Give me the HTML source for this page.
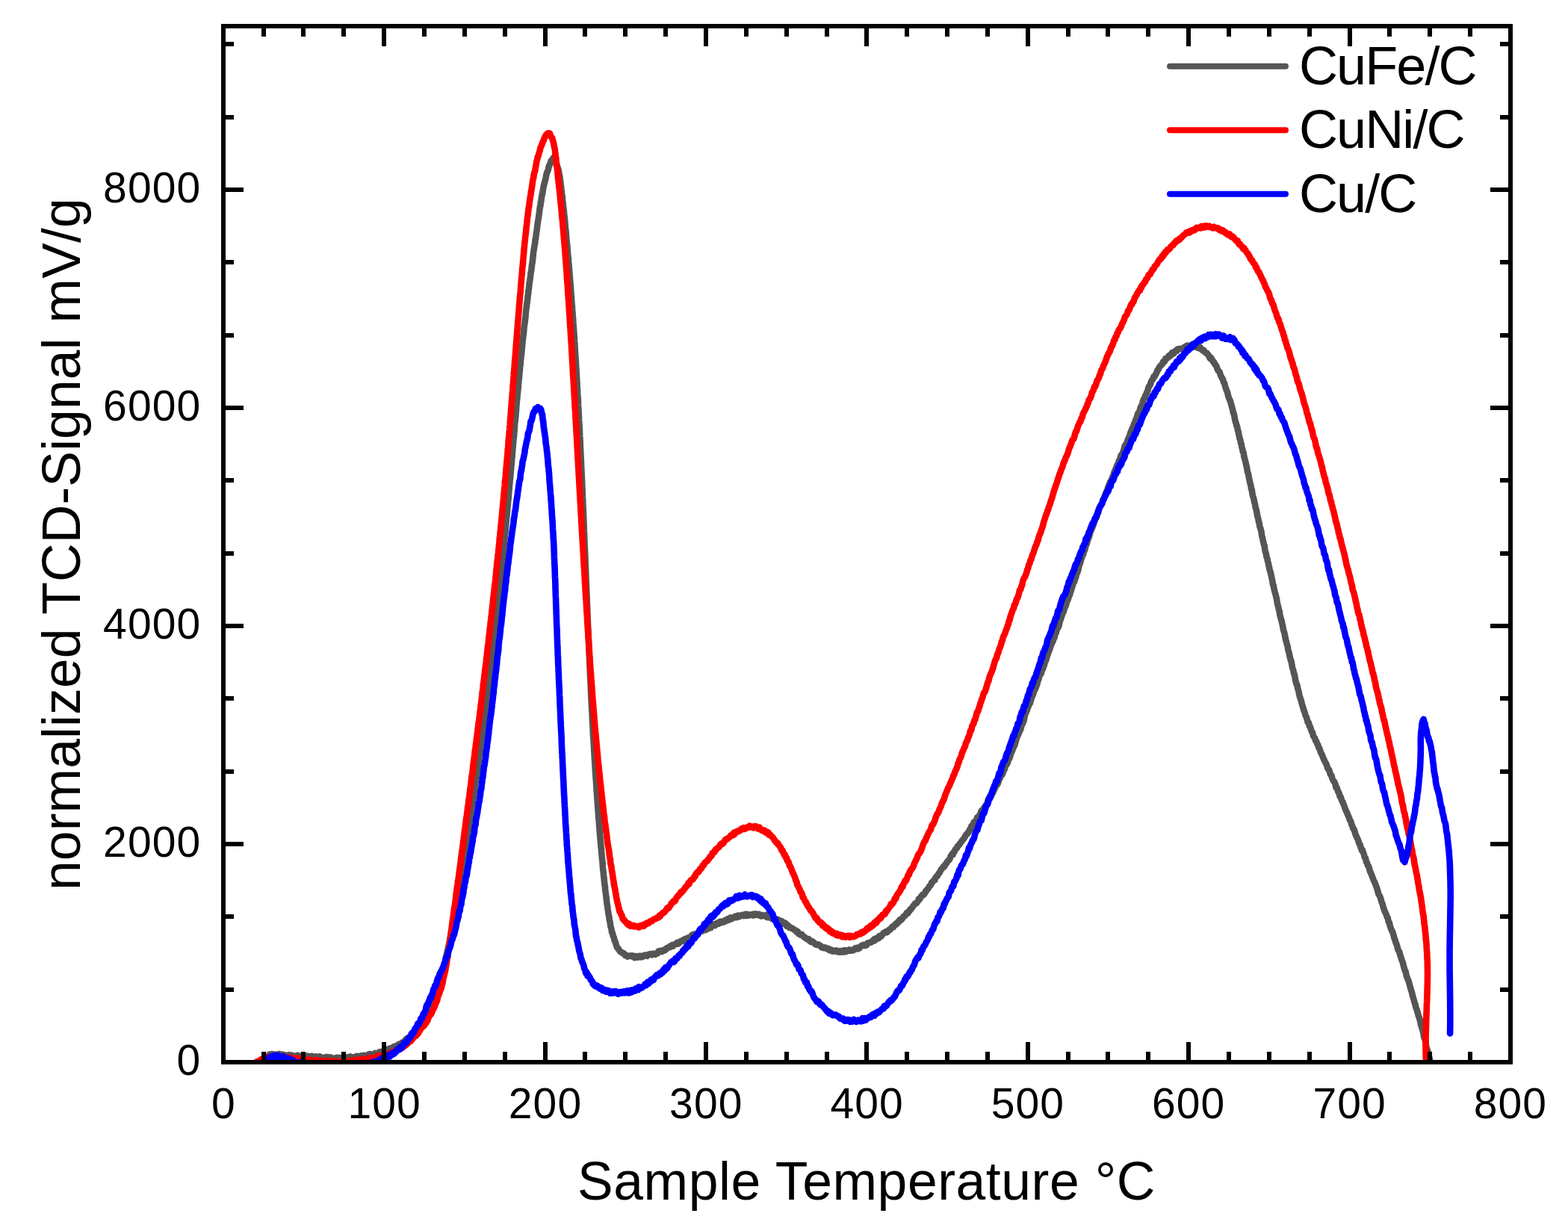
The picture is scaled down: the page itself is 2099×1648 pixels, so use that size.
<!DOCTYPE html>
<html lang="en">
<head>
<meta charset="utf-8">
<title>TCD signal vs sample temperature</title>
<style>
html,body{margin:0;padding:0;background:#fff;}
body{width:2099px;height:1648px;overflow:hidden;}
svg{display:block;}
text{font-family:"Liberation Sans",Arial,Helvetica,sans-serif;fill:#000;}
.tick{font-size:57px;letter-spacing:1.1px;}
.xt{font-size:71.5px;letter-spacing:0.55px;}
.yt{font-size:71.5px;letter-spacing:0.09px;}
.leg{font-size:72px;letter-spacing:-1.9px;}
.curve{fill:none;stroke-width:8.6;stroke-linejoin:round;stroke-linecap:round;}
</style>
</head>
<body>
<svg xmlns="http://www.w3.org/2000/svg" width="2099" height="1648" viewBox="0 0 2099 1648">
<rect width="2099" height="1648" fill="#fff"/>
<defs><clipPath id="plot"><rect x="299" y="35" width="1723" height="1388"/></clipPath></defs>
<g clip-path="url(#plot)">
<path class="curve" stroke="#555555" d="M357.5 1414.5l1-.8 1.1 .3 1.2-2.4 1 .5 1-.7 1.1-.3 1.1 .1 1.1 .4 1.2 0 1.1 .4 1.2-.3 1.2 .8 1.2-1.3 1 2 1-2.3 1 1.9 1.1-.6 1 .5 1-1.1 1 .3 1.1 1.7 1 .6 1-1.7 1 1.1 1.1 .6 1 .2 1-2.2 1 0 1 .4 1.1 2.1 1-2.2 1 1 1 1.6 1-1.1 1 .5 1-1 1 1.1 1 .5 1-2.3 1.1 2.2 1 .7 1-.6 1-1.3 1 1.5 1-1.9 1 1 1 1.4 1.2-1.7 1.2 .1 1.2-.4 1.2-.3 1.2 1.9 1.2-1.2 1.1 .2 1.2 .7 1.2-1.2 1.2 1.5 1.2-1.1 1.2 1.3 1.2 .4 1.2-1.6 1.2 .9 1.2 .8 1.2-.7 1.2-1 1.2 1.4 1.1 .5 1.2-.4 1.2 1.2 1.2-.9 1.2 .9 1.2-2.1 1.2 .1 1.2 1.9 1.2-1.2 1.1-.6 1.2 2.2 1.2-1.6 1.2 1.1 1.2 0 1.2 .4 1.2-.7 1.2 .4 1.1-1.1 1.2-.2 1.2 1.7 1.2-1.3 1.2 1.5 1.2-.9 1.2-.1 1.2-1.5 1.1 2.4 1.2-1.5 1.2 .3 1.2-.5 1.2-.5 1.2 1.8 1.2-1 1.2-1.7 1.2 1.7 1.1-.9 1.2 .5 1.2 .9 1.2-1.6 1.2 1.4 1.2-.9 1.2-1.8 1.2 2.5 1.2-.8 1.2 .7 1.2-2.5 1.2-.2 1.2 2 1.2-.8 1.2-1.9 1.2 1.7 1.2-.2 1 .3 1-.8 1-1.8 1-.5 1-.1 1-.2 1 .4 1 1.5 1-1.1 1-.2 1.2 .5 1.2-2.3 1.2 .2 1.2 .5 1.2 .8 1.2-1.5 1.1-1.8 1.2 1.8 1.2-1.9 1.2 1.2 1.1-1.5 1.2 .9 1.2-.7 1.1-.9 1.2-1.6 1.1-.7 1.2-.2 1.1-.7 1.1-.3 1.2-.1 1.1 .9 1.1-.9 1.1-2.1 1.1-.3 1 2 1.1-1.7 1.1-1.6 1-.4 1.1 .8 1-2.1 1.1 .5 1 .5 1-1 1.1-2.5 1.2 0 1.1-.4 1.1-.2 1.1-2.7 1.1-1.2 1.1-.8 1 .4 1-.6 1.1-1 1-1.6 1.1 .8 1.1-2.2 1.1-1.7 1.1-.6 1-.6 1.1-1.3 1-2.3 1-1.8 1.1-.5 1.1-.6 1.1-2.6 1 .1 1-3.4 1-.9 1.1-.1 1.1-3.4 1-.4 1.1-2 1-.6 1-3.8 1.1-2.4 1-.1 1-1.9 1.1-1.8 1-2.1 1-4.8 1.1-1.8 1-1.3 1-1.5 1.1-2.7 1-3.7 1.1-1.9 1-3.7 1-3.6 1-2.6 .9-2.6 1-3 .9-1.9 .8-2.9 .9-4.4 .8-1.3 .8-5.1 .8-3.1 .8-2.9 .8-1.8 .7-4.3 .7-.3 .7-3.3 .7-5.2 .7-2.7 .7-2.6 .7-3.7 .6-1.3 .7-4.4 .6-1.4 .6-4.2 .6-2.3 .6-3.2 .6-2.9 .6-4.4 .6-2.9 .5-2.4 .6-4.6 .5-2.6 .6-2.8 .5-4.8 .6-1.5 .5-3.6 .6-2.1 .5-4.5 .5-1.5 .6-4 .5-4.3 .5-1.4 .5-3.7 .6-4.7 .5-2.1 .5-2.4 .6-2.5 .5-5.7 .5-.4 .6-4.9 .5-1.4 .5-4.2 .5-2.6 .5-3.8 .6-3 .5-4.1 .5-2.3 .5-2.7 .5-2.9 .6-3.4 .5-3.4 .5-2.5 .4-4.4 .5-2 .5-3.6 .5-3.2 .5-2.8 .4-3 .5-3.2 .5-2.1 .5-3.5 .4-1.5 .5-3.8 .5-4.3 .4-2.3 .5-3.2 .5-1.7 .4-2.8 .5-2.9 .4-3.6 .5-4.1 .5-3 .4-1.3 .5-3.9 .4-2.2 .5-3.6 .4-2.5 .5-3.6 .4-2.2 .5-3.6 .4-3.2 .5-3.4 .4-3.7 .4-2.1 .5-3.8 .4-.4 .5-5.3 .4-1.2 .4-2.8 .5-3.5 .4-3.3 .4-4.1 .4-2.1 .5-3.3 .4-3.3 .4-2 .4-3.7 .4-1.3 .4-3 .5-4.8 .4-3.4 .4-2.7 .4-2.2 .4-2.3 .4-4.4 .4-2.9 .4-1.3 .4-4.2 .4-2.4 .4-4 .4-3.4 .4-1.8 .4-3.1 .3-3.9 .4-1.6 .4-3.2 .4-2.7 .4-4.4 .4-1.3 .3-4.4 .4-2.2 .4-2.2 .4-5.1 .3-2.2 .4-1.4 .4-3 .3-3.9 .4-2 .4-2.8 .4-3.5 .4-3.1 .3-5.3 .4-1.6 .4-3.1 .4-3.4 .4-2.6 .3-5.4 .4-1.1 .4-3.3 .4-4.5 .3-3.2 .4-2.1 .4-4 .3-1.9 .4-4.1 .4-2.3 .3-2.6 .4-5.1 .3-3.6 .4-1.1 .3-4.1 .4-2 .4-4.1 .3-2.2 .4-4.4 .3-3.3 .3-4.2 .4-2.6 .3-4.1 .4-2.8 .3-1.6 .4-5.1 .3-2.3 .3-1.8 .4-3.6 .3-3.2 .3-4.6 .4-2.5 .3-2.8 .3-2 .4-5.4 .3-3 .3-3.2 .3-1.8 .3-4 .4-4.3 .3-1.9 .3-4 .3-1.6 .3-4.6 .4-3.9 .3-1.6 .3-2.5 .3-4.5 .3-2.1 .3-3.9 .3-3.1 .3-2 .3-3.6 .4-5.3 .3-1.3 .3-3.9 .3-1.8 .3-5.2 .3-3.1 .3-3.7 .3-2.2 .3-4.1 .3-1.7 .3-2.7 .2-3.5 .3-3 .3-4.4 .3-1.7 .3-4.4 .3-2.1 .3-3.7 .3-4.5 .3-3.4 .3-3.4 .2-3 .3-2.1 .3-4.1 .3-3.5 .3-1.1 .3-4.2 .2-2.2 .3-4 .3-3.2 .3-3.1 .3-3.2 .2-2.3 .3-4.3 .3-1.8 .3-5.6 .2-1.1 .3-5 .3-1.8 .3-4.9 .2-1.7 .3-4.7 .3-.6 .3-3.3 .2-3.5 .3-2.8 .3-5.4 .2-2.9 .3-2.9 .3-1.8 .2-2.2 .3-2.7 .3-3.8 .2-2.9 .3-2.5 .2-4.5 .3-3.4 .3-3.2 .2-3.1 .3-1.1 .3-4.8 .2-2.7 .3-1.4 .3-4.4 .3-1.1 .2-5 .3-2.3 .3-3.6 .3-1.3 .3-4.5 .2-2.8 .3-2.8 .3-1.8 .3-5.5 .3-1.1 .3-2.5 .3-5.4 .3-1.6 .3-3.5 .3-1.5 .3-3.8 .3-2.6 .3-3.7 .3-2.5 .3-3.9 .3-3.8 .3-1.4 .4-3.7 .3-2.4 .3-1.9 .3-4.4 .4-3.5 .3-2.6 .3-1.4 .4-3 .3-3.2 .4-2.8 .3-4.9 .4-3.4 .3-2.6 .4-2.8 .3-3.3 .4-1.8 .4-3.5 .3-1.9 .4-4.7 .4-1.6 .3-4.2 .4-2.1 .4-3.6 .4-3.8 .3-2.5 .4-1.8 .4-3.4 .4-2.9 .4-4 .4-1.8 .4-2 .4-3.7 .4-3.8 .5-2.1 .4-3.3 .4-4.1 .5-4.7 .4-3 .4-3.2 .5-2.1 .4-3.4 .5-1.5 .4-5.4 .5-.9 .4-3.7 .4-3 .5-3.7 .5-3 .4-3.7 .5-4.5 .4-2.2 .5-2.7 .4-2.5 .5-3.8 .5-3.2 .4-4 .5-3.5 .5-1.1 .4-4.3 .5-1.3 .6-5.3 .5-2.8 .5-2.4 .6-2.4 .5-3.8 .7-3.9 .6-2.5 .7-2.5 .7-2.6 .8-2.8 .8-4.9 .8-3.2 .8-1.5 .9-2.1 1-5.2 1-1.2 1-2.9 1.1-3.2 1-.5 1.1-1.8 1-1.8 1 2.3 1.1 2.7 1.1 2.1 1 2.2 1 3.1 .9 2.7 .7 2.1 .6 3.9 .6 3.3 .5 2.1 .4 4.5 .4 1.3 .4 4.7 .4 1.8 .4 4.4 .4 2.1 .3 4.1 .4 1.7 .3 2.6 .3 4.7 .4 1.9 .3 4.3 .4 3.2 .3 1.7 .3 3.1 .3 3.1 .4 3 .3 3.8 .3 2.2 .3 3.4 .3 4.7 .3 3.5 .3 1.1 .3 3.6 .3 3.1 .3 5.2 .3 2.6 .3 2.7 .3 2.5 .3 4.6 .3 2.1 .2 4.5 .3 2.6 .3 2.5 .3 2.2 .2 5.6 .3 .9 .3 3.3 .2 3.8 .3 3.1 .3 2.5 .2 4.8 .3 1.7 .2 4.4 .3 3.3 .2 1.5 .3 4.1 .2 3.4 .2 2.7 .2 2.9 .3 2.1 .2 4.2 .2 3.6 .2 1.6 .3 4 .2 .9 .2 5.2 .2 1.2 .2 3.6 .2 2.7 .3 2.4 .2 5.3 .2 1.5 .2 3.4 .2 2.9 .2 2 .2 3.2 .2 2.7 .2 4.2 .2 2.3 .2 3.2 .2 2.3 .2 4.9 .2 1.1 .2 5.5 .1 .7 .2 4.1 .2 1.6 .2 5 .2 1.4 .2 3.9 .1 3.6 .2 1.3 .2 4.2 .2 2 .2 4.5 .1 2.9 .2 1.5 .2 4.9 .2 .7 .1 5.3 .2 2.2 .2 2.5 .1 4 .2 2.9 .2 3.8 .1 1 .2 2.2 .1 5.6 .2 2.8 .2 2.6 .1 2.4 .2 3.5 .1 3.2 .2 1.9 .1 4.1 .2 3 .2 2.6 .1 2.4 .2 3.8 .1 1 .2 5.2 .1 3.3 .1 1.2 .2 2.7 .1 3.2 .2 3.3 .1 4.8 .2 2.2 .1 2.5 .2 2.8 .1 3.6 .2 4.1 .1 2.4 .2 3.6 .1 3.1 .2 4.3 .1 2.1 .2 2.9 .1 4.2 .2 1.9 .1 3.9 .2 2.7 .1 4.1 .1 3.9 .2 2 .1 4.1 .2 2.3 .1 3.8 .1 1.7 .2 4 .1 4.6 .1 2.3 .2 3.7 .1 2.4 .2 3.2 .1 4.2 .1 1 .2 4.6 .1 4.2 .1 2 .2 2.3 .1 5 .1 1.6 .2 4.4 .1 2.8 .1 4.3 .2 2.3 .1 3.8 .1 .9 .1 5.9 .2 .7 .1 3.8 .1 5 .2 .5 .1 5.5 .1 3.3 .2 2 .1 2.7 .1 4.7 .1 2.3 .2 2.3 .1 5.4 .1 3.1 .2 2.1 .1 4.2 .1 1.9 .2 4 .1 2.4 .1 3.5 .2 2.3 .1 5.4 .1 1.3 .1 2.6 .2 3.3 .1 2.9 .1 5.1 .2 2.8 .1 3.8 .1 2.4 .2 4 .1 3 .1 3.4 .2 2.1 .1 3.9 .1 1.9 .2 3.6 .1 2.8 .2 3.8 .1 2.8 .1 3.6 .2 4.8 .1 1.4 .2 5 .1 2.2 .1 2.5 .2 4.6 .1 2.5 .2 2.2 .1 4.7 .1 2.2 .2 2.9 .1 3.2 .2 4.2 .1 2 .2 4.7 .1 1.8 .2 3.6 .1 2.9 .2 4 .1 3.1 .2 1 .1 4.1 .1 3.9 .2 1.7 .1 4.4 .2 1.2 .1 3.9 .2 3.2 .1 1.7 .2 2.4 .2 4.1 .1 4.5 .2 1.3 .1 4.2 .2 1.3 .2 3.5 .1 2.5 .2 4.6 .1 2.9 .2 3 .2 1.7 .2 4.3 .1 1.7 .2 3.5 .2 2.9 .1 2.9 .2 2.2 .2 4.6 .2 3.2 .2 2.7 .1 3.1 .2 1.7 .2 2.9 .2 4 .2 4 .2 1.1 .2 3.8 .2 2.9 .2 3.1 .2 2.1 .2 3.5 .2 2.8 .2 4.6 .2 2.9 .2 1.9 .2 3.5 .2 1.7 .2 4 .2 2.4 .3 4.6 .2 2.5 .2 2.8 .2 1.6 .2 4 .3 4.4 .2 2.9 .2 2.1 .3 1.7 .2 4.3 .2 2.8 .3 2.7 .2 2.9 .3 3.5 .2 3.7 .3 2.7 .2 2.5 .3 4 .2 .5 .3 5.6 .2 .4 .3 3.4 .3 3.6 .2 2.1 .3 4.5 .3 1.3 .3 3.7 .2 2.3 .3 4.8 .3 2.9 .3 2.2 .3 2.5 .3 4.5 .4 2 .3 4.5 .3 2.3 .4 3.3 .4 1.8 .3 4.9 .4 2.3 .4 2.9 .4 3.7 .4 3 .4 3.4 .5 4.6 .4 1.4 .5 4.3 .4 2.5 .5 4.1 .5 1.7 .5 2.8 .6 5 .5 .7 .6 5.7 .6 2 .7 2.4 .7 4.7 .8 .3 .8 4.3 .9 1.6 1 4.5 1.1 1.6 1 3.8 1.1 3.2 1.1 1.7 1 .5 1.1 2.2 1.1 1.6 1 .3 1.1 1.1 1.1-.2 1.1 1.4 1.1 0 1 2.2 1.1-.3 1 .4 1.2 1.6 1.1-.7 1.1 0 1.2-.2 1.2-.3 1 1.1 1-1 1 .9 1.1 .6 1 1.4 1-2.4 1.1 1.6 1-.5 1.1 .8 1-1.9 1.1-.2 1 .8 1 1 1.1-1.8 1 1.5 1-1.5 1-.3 1-.8 1.2 .9 1.2-.3 1.2 .6 1.1-2 1.2 0 1.2-.7 1.1 0 1.2 1.1 1.1-1 1.2-.6 1.1 .3 1.1 .9 1.1-.9 1.2-.8 1.1 .2 1.1-2.9 1.1-.3 1.1 .7 1.1-.8 1.1 1.1 1.1-1.7 1.1-.3 1.1 .5 1-1.8 1.1 .7 1.1-2.2 1.1-.5 1-.4 1.1 .1 1.1-1.4 1.1 .7 1-2 1.1-.7 1.1 1.7 1-2.3 1.1-.1 1.1-.1 1.1-.6 1-1.8 1.1 1.7 1.1-.4 1-.9 1.1-2 1.1 .1 1.1-1 1 0 1.1 .7 1.1-2.4 1.1 .4 1-1.5 1.1 .8 1.1-1.8 1.1 1 1-.9 1.1-.5 1.1-1.4 1.1-1.2 1-1 1.1 .2 1.1-1.3 1.1 1.3 1.1-.6 1-1.2 1.1 .4 1.1-1.2 1.1-1.9 1.1-.3 1-.4 1.1-.1 1.1-1.3 1.1 1 1.1-.8 1-.2 1.1-1 1.1 .6 1.1-1.6 1.1-1.8 1.1 1.9 1.1-1.1 1-.1 1.1-.1 1.1-3.1 1.1 0 1.1-1 1.1 .5 1.1 .8 1.1-2.7 1.1 .6 1.1-1.5 1 1.3 1.1-.3 1.1-2.7 1.1 .8 1.1-1.2 1.1 1.5 1.1-.4 1.2-1.4 1.1 .5 1.1-2.1 1.1 1.1 1.1-1.7 1.1-1 1.1 1.6 1.2-1.2 1.1-2.1 1.1 1.9 1.2-.8 1.1-.6 1.1 0 1.2-1.7 1.1 .7 1.2 .3 1.1-2.4 1.2-.1 1.1 1.7 1.2-.8 1.2-.5 1.2-1 1.1-.1 1.2 1.4 1.2-1.4 1.2-1.1 1.2 2.2 1-2.1 1 1.7 1 .1 1-1.2 1.1 .3 1-.3 1 .3 1 .6 1.1-1.6 1 1.7 1-.8 1-1.3 1.1 .4 1 1.1 1-.9 1.1-.2 1 .2 1 2 1-.5 1 1.1 1.1-1.5 1 .8 1 .2 1.2 .3 1.2-1.3 1.1 2.2 1.2 .8 1.2-.8 1.1-.6 1.2 1.9 1.1-1.8 1.1 1.3 1.1 2 1.1-.5 1.1 1.2 1.1-.3 1.1 1.1 1.1 .6 1-1.1 1.1 0 1.1 2.1 1-.2 1-.4 1.1 1.8 1-1 1 1.1 1 2.2 1.1-1.6 1 1.4 1-.2 1 3.3 1.1-.4 1.2-.1 1.2 2.5 1.1-.4 1.2 .6 1.1 1.1 1.2-.1 1.1 .9 1.2 1 1.1 .4 1.2 1.7 1.2 1.1 1.1-.9 1.2 3.3 1.1 .2 1 .8 1 .6 1.1-1.2 1 1.8 1 .6 1 1.3 1 .1 1.1 1.4 1 .6 1 .7 1.1 .5 1-.7 1.1 2.4 1 .7 1.1 1 1.1-1.2 1 .5 1.1 1.2 1.1 .4 1.1 2 1.1 0 1.1 1 1.1-.3 1.1-.4 1.1 .6 1.1 1.3 1.1 0 1.1 2.3 1.1-.2 1.1 .8 1.2-.1 1.1-.7 1.1 .8 1.2 1.1 1.1-.4 1.1-.1 1.2 2.3 1.1 .3 1.2-.8 1.1 1.7 1.1-.9 1.2 1.4 1.2-.4 1.1 0 1.2-.9 1.1 1 1.2 1.1 1.1-1.5 1.2 1.6 1.2 .1 1.1-1.6 1.2 .9 1.2 .5 1.1-2.3 1.2 2.1 1.2-2.1 1.1 1.7 1.2-.7 1.1-1.1 1.2-.7 1.2 1.1 1.1 .3 1.2-.3 1.1-.9 1.2 .6 1.1-1.3 1.2-1.5 1.1 .3 1.2-.7 1.1 1.5 1.2-2.1 1.1 1.2 1.1-1.7 1.2-1.5 1.1-.7 1.1 .3 1.1-1.1 1.1 .9 1.1-1.2 1.1 1.1 1.1-.7 1.1-2.7 1.1 .1 1.1-.3 1.1-.3 1 0 1.1-1.4 1-.8 1.1-1 1 1.2 1.1-3.1 1 1.6 1-2.4 1.1 .8 1-1.6 1 1.1 1-3.1 1-.4 1.2 1.1 1.1-1.6 1.2-1.6 1.1-1.6 1.1-.2 1.2-1.1 1.1-.6 1.1 1.1 1.1-.9 1.1-1.4 1.1-1.5 1.1 .2 1-1.8 1.1-1.3 1.1-1.1 1 .9 1.1-2.4 1-.6 1.1-1.6 1 .8 1.1-2.3 1-1.2 1 .3 1-2.5 1-1.1 1 1 1.2-1.3 1.1-1.6 1.1-2.1 1.1-.1 1.2-1.1 1.1-2 1.1-1.8 1.1 1.1 1-2.4 1.1-.3 1.1-2.6 1.1-.2 1-1.7 1.1-1.3 1.1-1.9 1-.9 1.1-1.7 1-.6 1 0 1.1-1.6 1-1.1 1-3.1 1 .7 1-1.8 1.1-2 1-1.4 1-1.2 1.1 .4 1.1-1.1 1.1-1.6 1.1-3 1.1-.2 1.1-2.1 1.1-.7 1.1-2.4 1.1-1.2 1.1-.9 1.1-3.4 1.1-.2 1-2 1.1-.8 1.1-.4 1-3.1 1.1-1.5 1.1-.3 1-1.9 1.1-2.2 1.1-.7 1-2.2 1.1-2.3 1-.6 1.1-1.8 1.1-1.8 1 .5 1.1-2.1 1-1.8 1.1-1 1-2.1 1.1-1 1-.8 1.1-1.7 1-3.4 1.1-1.2 1-2 1.1 1 1-3.5 1.1-.3 1-3.1 1.1-1.1 1-.7 1-2.6 1.1-.6 1-1.1 1.1-2 1-.9 1-1.5 1.1-1.9 1-.6 1-1.5 1-1.5 1-1.8 1.1-2.1 1-.7 1-.6 1-2.4 1-.5 1-2.9 1-.7 1.1-3.6 1.1 .4 1.1-2.4 1.1-3.1 1.1-.9 1.1-.9 1.1-1 1.1-3.7 1-.3 1.1-.9 1.1-2.1 1-.9 1.1-4.1 1-1.1 1.1 .1 1-2.1 1.1-2.1 1-1.1 1-1.5 1-1.5 1-1.6 1-4.1 1.1-2.1 1.1-1.9 1.1-2 1.1 .7 1-4.3 1.1 .2 1-2.4 1.1-2.4 1-2.3 1-2 1-2.2 1.1-.2 1.1-2.7 1-4.1 1.1-.9 1-2.6 1.1-2.9 1 .3 1-2.5 1.1-3.6 1-1.1 1.1-3.7 1-2.4 1.1-.6 1-2.3 1-3.6 1-1.2 1.1-2.8 1-3.6 1.1-3 1-1.7 1-3.3 1.1-2.2 1-1.6 1-3.2 1.1-4.1 1-3.5 1.1-2.5 1-1.9 1.1-3.1 1-1.8 1.1-2.5 1-4.9 1-.9 1.1-2.6 1-2.8 1-5.5 1-2.7 1.1-3 1-2 1-3.6 1.1-2.1 1-2.7 1-1.1 1.1-4.2 1-3.4 1.1-2.2 1-2.4 1-4.3 1.1-1 1-2.6 1.1-2.8 1-2.7 1.1-4.3 1-2.6 1.1-3.8 1-2.4 1.1-.8 1-4.7 1.1-1.1 1-2.8 1.1-2.7 1-5 1.1-.8 1-3.5 1.1-4 1-2.4 1.1-3.3 1-2 1.1-3.9 1-2.5 1.1-2.8 1-1.4 1-3.1 1.1-2 1-4.5 1.1-1.8 1-4.5 1-1.4 1-1.9 1.1-2.4 1-5.6 1-2.1 1-2.9 1.1-3.3 1-2.9 1-1.5 1-4 1-2.2 1-1.8 1.1-4 1-3.1 1.1-2.1 1-3.6 1.1-2.1 1-3.6 1-2.6 1.1-3.8 1-3.2 1-3.5 1-.8 1.1-3.4 1-2.6 1-5.2 1-.9 1-3 1-4.9 .9-3.1 1-2.2 1-4.1 1-2.3 1-3.8 1-.9 .9-4.1 1-1.5 .9-3.8 1-3.3 1-1.5 .9-5.1 1-1.5 1-2.7 1-3.5 1-3.9 1-1.6 1-2.9 1.1-1.9 1-4.3 1.1-2.5 1-3 1-1.4 1-1.8 1.1-4.9 1-.8 1-4.2 1.1-3.1 1-2.4 1.1-.4 1.1-2.7 1-4.3 1.1-.8 1.1-2.8 1.1-3.8 1-2.5 1.1-2.1 1.1-3.9 1.1-3 1-1.9 1.1-3.3 1.1-.7 1-2.9 1.1-3.3 1.1-1.3 1-4.3 1.1-2.3 1-2.4 1.1-2.9 1-2.9 1.1-.3 1-4.8 1.1-.9 1-4.2 1-2.8 1.1-1.1 1-1.6 1-2.7 1.1-4 1-3.5 1-.4 1.1-2.5 1-2.4 1-3.2 1.1-2.2 1-2.3 1-3.8 1.1-2.3 1-2.7 1-2.1 1.1-2.6 1-3.1 1.1-1.7 1-3.5 1-1.7 1.1-4.1 1-2.9 1.1-.4 1.1-3.3 1-3.9 1.1-1.8 1.1-1.5 1-5.1 1.1-2.6 1-1 1-3.5 1-1 1-3 1.1-2.2 1-4 1-2.5 1.1-.9 1-2.8 1-3.2 1.1-1.4 1.1-1.3 1-3.3 1 0 1-1.8 1.1-1.9 1-2.4 1-2.6 1.1-.7 1.1-3 1.1-1.5 1-.6 1-1.5 1.1-.6 1.1-3.1 1.1 .1 1-.7 1.1-3.8 1.1 .2 1-.6 1.2-.6 1.1-2.9 1 1 1.1-2.2 1 .6 1.1-3.3 1.1-.6 1.2 1.7 1.1-1.9 1-1.1 1-1.4 1.1 .8 1-2.4 1.1 .2 1.1-.5 1.1 .3 1.1-.4 1.2 0 1.1-.2 1.2-1.2 1.2-.7 1.2-.8 1.2 1.2 1.1-2.6 1.2 1.9 1.2-1.9 1.2 .5 1.2 .3 1.2-1.3 1.1-.2 1.2 1 1.1 .9 1.2-.1 1.1-1.3 1.1 2.5 1.1-.8 1 1.7 1.1-.6 1-.7 1 .9 1.2 2.6 1.1 .4 1.2 1.4 1.1-.7 1 1.5 1.1 1.4 1 .8 1 .1 1.1 1.7 1.1 .8 1.1 2.9 1 1.7 1.1-1.3 1.1 3.2 1 .4 1.1 2.3 1 .5 1.1 2.8 1.1 .9 1 1.5 1.1 3.7 1 2 1.1 1 1 1 1.1 4.2 1 1.8 1.1 2.4 1 1 1.1 4.4 1 1.1 1 3.9 1.1 3.3 1 3.1 1 2 .9 4.1 .9 3.3 .9 2 .8 1.5 .9 3 .8 2.8 .8 3 .9 2.8 .8 4.7 .7 .8 .8 3.5 .8 4.7 .8 3.2 .7 1.8 .8 4 .7 .3 .8 5.4 .7 1.1 .7 4.3 .7 3 .7 3 .7 1.8 .7 4.2 .7 1.1 .7 4.8 .7 2 .7 4 .7 .2 .6 4.9 .7 2.5 .7 2.7 .7 2.3 .6 3.1 .7 2.7 .6 2.8 .7 4.6 .7 2.1 .6 1.7 .7 4.9 .6 2.3 .7 3.5 .6 2.3 .7 2.6 .6 4.5 .7 .5 .7 5.6 .7 3.2 .7 1.6 .7 2.6 .7 4.2 .7 1.9 .7 4.9 .7 1.6 .8 3.2 .7 4.9 .7 3.1 .7 2.1 .7 4 .7 1.7 .7 4.9 .7 1.6 .7 2.7 .7 2.4 .7 5.8 .7 1.6 .7 3.9 .7 2.8 .7 3.4 .7 1.2 .7 5.6 .7 3.1 .7 2.1 .7 4.3 .7 1.2 .8 4 .7 2.5 .7 3.8 .7 2.2 .7 4.6 .7 1 .7 3 .7 3.2 .7 3.4 .8 3.8 .7 4.6 .7 .8 .7 4.6 .7 2.8 .7 2.6 .8 2.7 .7 3.2 .7 2.6 .7 5 .7 2.9 .8 2.6 .7 3.9 .7 1.4 .7 5.4 .8 2.9 .7 2.5 .7 2.4 .7 3.2 .8 3.3 .7 4.4 .7 2.9 .8 2 .7 3.4 .7 4 .8 3.3 .7 2.2 .7 3.3 .7 1.8 .7 4.5 .7 2.7 .7 2.1 .7 3.8 .7 2.9 .7 2.8 .7 1 .7 4 .7 4 .7 2.5 .7 2 .7 4.4 .7 .9 .7 3.2 .7 4.6 .7 2.5 .7 3.2 .8 .4 .7 4 .7 2.5 .9 3.2 .8 4.4 .8 3 .9 2.4 .9 2.8 .9 3.6 .9 3 .9 3.1 1 3.2 1 2.4 1 4.1 1.1 1.5 1 4 1 3.6 1.1 .2 1 4.6 1 .9 1.1 3.8 1.1 2.8 1 1.3 1 4.3 1 1.6 1 1.3 1.1 3.8 1 .6 1.1 3.6 1 1.1 1.1 3.7 1.1 1.5 1 3.5 1.1 2.5 1.1 1.9 1 2.7 1.1 2.8 1.1 2.4 1 1.9 1.1 1.9 1 2.2 1.1 3.7 1 1.9 1.1 .9 1 3.5 1.1 3.3 1 .3 1.1 4.3 1 2.3 1 1.5 1 1.1 1.1 2.7 1 4.6 1-.1 1 3.3 1.1 3.1 1 1.2 1 4.6 1 .1 1 3.5 1 2.6 1 1.3 1 3 1.1 2.7 1.1 3.3 1 2.3 1.1 2.1 1.1 3.1 1 2 1.1 2.8 1.1 3 1 1.2 1.1 4.3 1 2.1 1.1 3.6 1 .5 1.1 3.3 1 3.8 1 1.8 1.1 2.9 1 1.7 1.1 3.4 1 3.3 1 .5 1 4.3 1.1 3.1 1-.1 1 3.2 1 2.3 1 4.5 1.1 .6 1 5.2 1 .9 1 4.1 1 .6 1 3.3 1 3.8 1.1 2.1 1 2.4 1.1 2.9 1.1 3 1 2.4 1.1 2.2 1 2.5 1.1 3 1 2.5 1.1 4.2 1 3.7 1 1.4 1.1 2 1 3.8 1 3.3 1.1 2.4 1 3.9 1 3.1 1 2.7 1 2.3 1.1 2.2 1 3.4 1 1 1 5.5 1 .6 1 4.9 .9 2.5 1 2.8 1 1.4 1 2.7 1 3.4 .9 4 1 1.8 1 4.2 .9 1.2 1 3.6 .9 3.8 1 1.9 .9 1.2 .9 4 1 2.5 .9 3.4 .9 2.2 1 2.4 .9 4.4 .9 2.9 .9 3.3 .9 .9 .9 4.7 .9 3.1 1 2.6 .9 1.8 1 3.2 .9 3.5 .9 3.4 .9 2.9 1 3 .9 4.1 .9 3.2 .9 2.9 .9 3.3 .8 2.2 .9 4.2 .9 2 .9 3.1 .8 2.3 .9 4.1 .8 1.3 .9 3.3 .8 3.1 .8 4.6 .8 1.7 .9 3.6 .8 2.2 .8 3.6 .8 5.2 .8 1.8 .8 2.1 .7 4.2 .8 4.2 .8 2.9 .7 1.8 .8 2.8 .7 4.5 .7 1.6 .8 3.2 .7 2.6 .7 5.3 .7 2 .1 .7"/>
<path class="curve" stroke="#ff0000" d="M341.7 1424l1.2-1.1 1-1.8 1 .7 1-.9 1.1-.7 1-.8 1.1-.9 1 .7 1.1-1.4 1.1-.5 1 .6 1.1-.6 1.1-1.4 1.1 .7 1.1-1.2 1.1 1.5 1.2-.1 1.1-1.2 1.1 .8 1.2-2.2 1.1 1 1.2-1.3 1.1 .9 1.2-1 1.1 .1 1.2 1.3 1.2-1 1.1-.4 1.2 .4 1.2 .4 1.2 .4 1.2-.7 1.2 1.4 1.2-.4 1.2 .2 1-.2 1 1.2 1-.5 1-1 1 1.6 1 .9 1-1.2 1 1.3 1-1.4 1.1 .7 1-.2 1 .2 1 1.1 1-.6 1 1.4 1-1 1.1-1.2 1 1 1 1.5 1-1.1 1-1 1 .8 1-.4 1.1 2.7 1 .1 1-.4 1-.4 1 .6 1-1.6 1 .5 1.1 .7 1-.3 1-.8 1 2.7 1-1.4 1 .3 1-.4 1-.1 1 .4 1.1 1.4 1-.2 1-.9 1-1 1 2.3 1-1.4 1 .9 1-1.5 1 1.8 1-.7 1 .4 1-.2 1.1-.1 1 .6 1 1.2 1-2.4 1 .6 1-.7 1 2 1-.2 1-1.2 1 .6 1 .6 1 .1 1-1.4 1 2 1-.3 1-1.8 1.2 2.1 1.2-.4 1.2 .1 1.2-.7 1.2-.9 1.2 1.9 1.2-1 1.2-.7 1.2-.3 1.2 1.8 1.2-1.4 1.1 .2 1.2 .2 1.2 .5 1.2-.6 1.2-1.4 1.2 1.1 1.2-.4 1.2 .1 1.2 .3 1.1-1.4 1.2-.2 1.2-.4 1.2 .4 1.2-.9 1.1 1.6 1.2-1.1 1.2-.4 1.2-.5 1.2 .4 1.1-.3 1.2 0 1.2 .3 1.2 .1 1.1 .6 1.2 .2 1.2-2.8 1.1 .3 1.2 .9 1.2-1.5 1.1 1.7 1.2-2 1.2 1.2 1.1-.5 1.2 .2 1.1-2.4 1.2 .3 1.2 1 1.1-2 1.2-.4 1.1 .6 1.2 .4 1.1-1.8 1.2-.3 1.1-.4 1.2 .7 1.1 .4 1.1-1.7 1.2 1.5 1.1-1.6 1.1 .2 1.1-1.4 1.1 .5 1.2 .5 1.1-1.8 1.1-1.2 1 .2 1.1-.5 1.1-.3 1.1-.5 1.1-1.9 1-.2 1.1 .2 1 .1 1-.4 1.1-.7 1-1.4 1 .6 1-2.4 1.2-.4 1.1-.1 1.2-.6 1.1-2.1 1.1 .3 1.1-2 1.1-.2 1.1-2.9 1.1-.9 1 1.6 1.1-3.4 1 .6 1-2.1 1.1-1.3 1.1-.6 1.1 .3 1.1-2.2 1.1-.3 1.1-1.8 1-1.8 1-1.3 1-2.1 1.2-2 1.1-.3 1-1 1.1-.6 1-2 1-1.1 1.1-1.4 1-1.6 1.1-2.1 1-3.6 1.1-1.3 1-2.2 1-.1 1.1-2.3 1.1-3.3 1-1.5 1-1.7 1.1-2.2 1-4.3 1-1.1 1.1-2.5 1-4.9 1.1-2.8 .9-2.1 1-3.6 .9-1.2 .9-3.4 .8-3.1 .8-2.9 .7-4.3 .8-3.4 .6-2 .7-3.7 .6-1.7 .6-3.8 .6-3.6 .5-1.7 .5-4.3 .5-3.5 .5-1.3 .4-3.9 .5-3.6 .4-1.8 .5-2.1 .4-5.1 .4-1.5 .4-3.1 .4-4.8 .4-1 .5-4 .4-4 .4-1.8 .4-3.7 .4-3.3 .4-3.3 .4-2.6 .4-2.4 .4-2.4 .4-4.5 .4-1.3 .4-4.7 .4-2.8 .4-1.4 .4-2.5 .4-2.8 .4-3.9 .4-3.4 .4-4.1 .4-1.7 .4-4 .4-2.1 .4-2.7 .4-2.3 .4-4.4 .4-1.2 .4-2.9 .4-3.5 .4-3.3 .4-2.9 .4-2.6 .4-2.7 .4-3.3 .5-3.7 .4-4.8 .4-1.6 .4-3.9 .5-3.7 .4-1.2 .4-3.3 .4-4 .4-3.4 .5-3.1 .4-3.8 .4-2.7 .4-3.1 .4-4.4 .5-.7 .4-5.6 .4-2.2 .4-3.9 .4-2.9 .4-1.1 .5-4.7 .4-2.2 .4-4.8 .4-2.8 .4-1.4 .4-3.1 .4-4.9 .5-1.3 .4-4 .4-3.6 .4-3.5 .4-3.3 .4-1.5 .4-3.8 .4-3.7 .4-4.5 .4-2.6 .5-1.2 .4-4.3 .4-3.7 .4-4.1 .4-2.5 .4-3.2 .4-3.4 .4-2.6 .4-3.6 .4-3.6 .4-3 .4-2.1 .4-4.4 .4-.7 .4-5.2 .4-2.5 .4-3.3 .4-3.5 .4-3.1 .4-3.5 .4-2.9 .4-3.7 .4-1.5 .4-3.3 .4-4.1 .4-1.6 .4-4.6 .4-2.5 .4-3.4 .4-3.8 .3-1.5 .4-3.4 .4-3.1 .4-2.9 .4-5.8 .4-1.9 .4-1.9 .3-5.2 .4-2.7 .4-2.2 .3-2.5 .4-4 .3-3 .4-1.7 .3-5.1 .4-.8 .3-4 .4-2.4 .4-2.8 .3-4.7 .4-.7 .3-3.2 .4-4.2 .3-3.5 .4-3.4 .3-2.3 .4-1.8 .3-2.7 .3-4.4 .4-3.2 .3-2.7 .4-1.2 .3-5.4 .4-2.8 .3-1.5 .3-4.6 .4-2.6 .3-1.5 .3-4.4 .4-2.1 .3-3.1 .4-3.8 .3-3.1 .3-2.8 .3-1.4 .4-5.4 .3-2.7 .3-2.3 .4-3.3 .3-2.1 .3-3 .3-3.1 .4-3.6 .3-2.4 .3-2.2 .3-2.9 .3-3.8 .4-2.2 .3-5.1 .3-2.7 .3-1.3 .3-4 .3-3.2 .3-2.3 .4-3.5 .3-1.5 .3-4.4 .3-1.8 .3-3.6 .3-2.1 .3-4.2 .3-1.7 .3-4 .3-4.6 .3-1 .3-2.6 .3-5.1 .3-.6 .3-4.1 .3-2.5 .3-4.4 .3-1 .3-3.8 .2-3.3 .3-1.8 .3-4.1 .3-3.1 .3-4.3 .3-1.6 .3-2.5 .2-4 .3-2.1 .3-3.3 .3-4 .2-2 .3-3.2 .3-3.4 .3-2.1 .2-4.7 .3-2.1 .3-3 .3-1.7 .2-3.9 .3-3.4 .3-4.5 .3-2.4 .3-3.4 .2-1.6 .3-4.5 .3-2.1 .3-3.7 .2-2.6 .3-5.6 .3-.6 .2-3.2 .3-5.4 .2-3.4 .3-2.5 .3-2.4 .2-3.4 .3-3.4 .2-1.9 .3-4.1 .3-2.2 .2-4.2 .3-4.3 .2-.9 .3-3.2 .2-4.7 .3-2.3 .2-3.5 .3-4.5 .2-2.1 .3-2.9 .2-3.4 .3-3.3 .2-3.1 .3-2.8 .2-3.1 .3-5 .2-.9 .3-4.5 .2-2.5 .3-4.1 .2-4.1 .3-1.5 .2-4 .3-2.7 .2-3.9 .2-3.4 .3-2.9 .2-1.7 .3-3 .2-3 .3-4.8 .2-2.1 .3-4.9 .2-1.6 .3-4.1 .2-2 .3-5 .2-1.4 .3-5.3 .2-1 .3-4.4 .2-4 .3-2.7 .3-2.1 .2-3.9 .3-3.6 .2-3 .2-1.7 .3-3.1 .2-4.6 .3-.9 .2-4.9 .3-2.7 .2-3.6 .3-1.7 .2-2 .3-2.7 .2-4.3 .3-4 .2-2 .3-3.5 .2-2.9 .3-3.2 .3-1 .2-4.6 .3-4.1 .2-1.6 .3-2.4 .3-2.7 .2-3.1 .3-3.2 .3-4.4 .3-2.6 .2-2.6 .3-3.9 .3-2.2 .3-3.9 .3-3 .3-.9 .3-4.9 .3-2.1 .3-2.6 .3-2.1 .4-4.8 .3-3.3 .3-1 .4-4.6 .3-3.3 .4-3.5 .4-2.3 .4-3.8 .4-2.8 .4-3.3 .5-2.3 .4-3.7 .4-2.5 .5-4.2 .5-3.1 .4-1.3 .5-5.2 .5-1.7 .5-3.3 .5-3.3 .6-4.6 .5-3.5 .6-1.1 .6-5 .6-2.6 .6-1.1 .6-3.1 .6-3.3 .7-4 .6-3.5 .8-3.1 .7-3.3 .8-1.1 .8-3.4 .9-2.4 1-4.8 1-2.2 1.1-2.4 1.1-3.4 1-1.8 1-3.3 1.1-1.8 1.1-2.4 1.1-.3 1-1.9 1.1-.1 1 .2 1 0 1.2 3.8 1 1.2 1 1.1 1.1 4.5 .8 2.3 .6 4.1 .5 1.6 .4 2.1 .5 3.1 .4 4.7 .4 2.7 .4 2.2 .3 4 .4 3.1 .3 4 .4 .9 .3 3.2 .4 4.1 .3 2.3 .3 5.5 .4 .9 .3 4.4 .4 2.7 .3 4.1 .3 1.1 .4 4 .3 3.3 .3 2 .3 4.5 .3 2.7 .3 3.8 .3 1.9 .3 2.6 .3 3.1 .3 2.8 .2 4.9 .3 2.6 .3 1.8 .3 3.3 .3 2 .2 4.3 .3 3.4 .3 1.6 .2 3.6 .3 3.7 .2 2.3 .3 3.3 .2 2 .3 4.7 .2 1.1 .3 4 .2 2.5 .2 2.4 .3 5.1 .2 1.2 .2 3.7 .3 3.4 .2 2.1 .2 3.6 .2 3.1 .3 2.7 .2 2.8 .2 2.7 .2 4.8 .2 1.9 .2 3.5 .2 2.6 .3 2.5 .2 3.7 .2 4.1 .2 3.4 .2 3.4 .2 1.1 .2 3.6 .3 2.5 .2 5.7 .2 2.1 .2 3.4 .2 2.5 .2 2.6 .2 3.6 .2 2.9 .2 3.9 .2 4 .2 3.2 .2 1.7 .2 2.9 .2 4.7 .2 2.3 .2 2.6 .2 4.4 .2 1.8 .2 3.1 .2 3 .1 3.7 .2 4 .2 2.3 .2 2.9 .2 4.4 .2 4.3 .2 .7 .2 3.8 .2 5.1 .2 2.4 .1 3.8 .2 3.4 .2 1.3 .2 4.6 .2 1.9 .2 5.1 .2 3.2 .1 1 .2 5 .2 1 .2 4.8 .2 2.8 .2 3.6 .1 3.6 .2 3.5 .2 2.2 .2 2 .2 5.5 .1 .8 .2 5.3 .2 1.3 .2 5.4 .2 2.4 .2 2.3 .1 4.7 .2 1.3 .2 3.3 .2 3.5 .1 3.4 .2 2.7 .2 5.1 .2 1.9 .2 4.6 .1 1.3 .2 3.8 .2 4.1 .2 3.7 .2 1.7 .1 3.2 .2 4.6 .2 1.7 .2 3.2 .1 4.7 .2 1.9 .2 2.1 .2 5.5 .2 2 .1 2.8 .2 4.7 .2 .7 .2 5.8 .2 .8 .1 3.2 .2 5.6 .2 1.9 .2 2.3 .2 5.5 .1 1.4 .2 4.9 .2 1.8 .2 2.9 .2 3.8 .1 3.9 .2 3.2 .2 2.2 .1 2.1 .2 4.4 .2 3.2 .2 1.9 .1 3.5 .2 3.4 .2 2.5 .1 2.9 .2 2.2 .2 3.6 .2 2 .1 2.7 .2 3.3 .2 3.6 .2 2.7 .1 4 .2 2.1 .2 3.3 .2 2.4 .1 2.4 .2 4.8 .2 1.6 .2 3.7 .2 3.3 .1 3.3 .2 2.2 .2 2.6 .2 4.8 .2 2.3 .1 1.8 .2 4.5 .2 2.3 .2 2.7 .2 2.1 .2 3.3 .1 2.7 .2 4.7 .2 3.1 .2 2.1 .2 2 .2 3.3 .2 5.1 .2 2.9 .1 1.6 .2 2.3 .2 3.8 .2 3 .2 1.8 .2 5 .2 2.8 .2 2.8 .2 3.6 .2 3 .2 1.3 .2 2.6 .2 3.9 .2 4.4 .2 2.7 .2 1.5 .2 4.4 .2 2.5 .2 2.2 .2 4.2 .2 1.8 .2 3.1 .3 2.6 .2 4 .2 2.7 .2 3.5 .2 1.3 .2 4.1 .3 1.9 .2 3.8 .2 2.4 .2 4.2 .3 4.1 .2 2.8 .2 2 .3 2.5 .2 2.1 .2 4.8 .3 2 .2 3.2 .3 3.7 .2 1.7 .2 4.1 .3 2.7 .2 2.7 .3 4.3 .3 2.7 .2 1.4 .3 5.3 .3 .6 .3 3.9 .2 2.9 .3 3.7 .3 2.7 .3 3.6 .3 3.5 .3 3.4 .3 2.6 .3 2.6 .3 4.5 .3 3.4 .3 3.3 .4 1.4 .3 3.4 .3 4.8 .3 1.6 .4 3.1 .3 4.2 .3 2.9 .4 4.1 .3 1.4 .4 3.7 .3 3.3 .4 3.3 .3 2.3 .4 4.7 .3 1.7 .4 4 .4 4.9 .4 1 .3 4.5 .4 2.7 .4 4.5 .4 1.8 .4 2.5 .4 5.4 .4 2.4 .4 1.5 .4 4.3 .4 2.6 .5 4.7 .4 1.2 .4 4.5 .5 4.1 .4 3 .4 3.1 .5 2.5 .4 2.2 .5 2.5 .4 3.4 .5 5.2 .5 2.7 .5 1.4 .4 5.6 .5 1.9 .5 2.2 .5 4 .5 3 .5 2.6 .5 4.3 .5 2.9 .5 2.4 .6 4.7 .5 2.4 .5 2.4 .5 2.4 .6 4 .5 2 .6 5.1 .6 1.8 .7 4.1 .6 1.3 .7 3.4 .8 3.2 .8 4 1 .7 1.1 3.3 1 1.3 1.1 4.2 1.1 1.4 1 .3 1.1 2 1.1 .8 1 1.2 1.1 1.6 1.1 1.2 1-1.9 1.1 2 1 1.4 1.1-.9 1.1 0 1.1-.1 1.2 1.7 1.2-1.1 1.1 .6 1.2 0 1.2 .6 1 .8 1 0 1.1-2.2 1-.3 1 1.1 1-.4 1-1.5 1.2 1.5 1.2-.8 1.1-2.2 1.2 .4 1.1-1.7 1.2 .7 1.1-.4 1.1-1.6 1.1-.9 1-.3 1.1 .2 1-1.8 1-.3 1-.6 1.2-.1 1.1-.5 1.2-1.3 1.1-.1 1.1 0 1-2.8 1.1 1.2 1.1-2.7 1-.2 1-1.6 1.1-.1 1-.4 1.1-1.3 1.1-1.6 1.1-1.3 1.1-2.3 1.1 .7 1.1-.7 1.1-2.1 1.1-1.4 1-2.4 1.1-.8 1-1 1.1-1.7 1 1 1.1-1.4 1-2.7 1.1-1.9 1-.5 1-1.9 1.1-.2 1-2.2 1-1.6 1.1 .4 1-1.9 1.1-.4 1-1.7 1-.9 1-2.2 1.1-.5 1-1.4 1-1 1-2.9 1.1 1.4 1-3.2 1-1.7 1-.7 1-.1 1-.6 1.1-1.5 1-2.7 1 .2 1-3.4 1-1.2 1.1-1.1 1.1 .2 1.1-1.5 1.2-3.1 1.1 .2 1.1-1.3 1.1-3 1.1 0 1.1-2.2 1.1-2.3 1.1-.2 1.1-1.4 1.1-.3 1.1-2.3 1.1-.6 1.1-2.5 1.1-.6 1-.5 1.1-3.9 1 0 1-1.3 1-.2 1.1-3.3 1 .4 1.1-2 1-.6 1.1-.5 1.1-1.4 1.1-2.2 1.2-1.3 1.1 .7 1-1.9 1 .3 1.1-1.8 1-2.2 1.1-1.1 1-.5 1.1 .3 1.1-1.7 1.2-.6 1.1-.9 1.1-2 1-.3 1.1-.9 1 1.1 1-3.3 1.1 1.9 1-3 1.1 .5 1.1-1.5 1.1-.5 1.1 .7 1.1-.8 1.1-.4 1.1-2.1 1.1-.5 1.1 1.1 1.2-2.3 1.1 1.8 1.1-.3 1.2-1.5 1.1 .2 1.1-1.2 1.1 .6 1.2-1.9 1.1 .5 1.1 .5 1.1 .1 1.2 1.5 1.1 .1 1.1-2.3 1.1 .6 1.1-.3 1.1 1 1 2 1.1-.7 1.1-1.1 1 1.8 1.1 1.6 1 .6 1.1 .4 1 .1 1-.8 1 2.5 1.2-1 1.2 2.5 1.1-1.5 1.1 .9 1.1 3.1 1.1-1 1.1 1.9 1 .7 1.1 .9 1 1.2 1.1 1.6 1.1 2.2 1.1 .7 1.1 2.1 1 1.1 1-.6 1.1 2.2 1.1 1.9 1 .7 1.1 2.6 1.1 2.8 1-.3 1 3.3 1.1 2.5 1-.2 1 3.7 1.1 .2 1 4.3 1.1 .6 1.1 2.3 1 4.1 1 .7 1.1 2.4 1 2.8 1.1 3.6 1 .7 1 3 1.1 2.5 1 3.7 1 1.3 1.1 5 1.1 1.3 1 2.8 1 1.2 1 3.8 1.1 .4 1.1 2.5 1 4.5 1 .2 1.1 2.9 1 2 1 1 1.1 3 1.1 1 1 2.8 1 .6 1.1 2.1 1.1 1.9 1 .1 1 1.7 1 1.4 1.1 2.5 1.1 1.7 1.1 2.6 1.1-.5 1 .7 1.1 3.5 1.1 0 1.1 2.3 1.1-.5 1.1 .3 1 2 1 2.5 1.1-1.6 1.1 2.1 1.1 2 1.2-.8 1.1 2.5 1.2-1.1 1 1.4 1 .4 1 2.9 1.1-.3 1-.3 1.1 2.5 1-.4 1.1 0 1.1 1.6 1.1 .4 1.1 1.3 1.1-2 1.1 2.7 1.1-.2 1.1-1 1.1 1 1.1-.6 1.2 2.5 1.1-1.9 1.1 .5 1.2 1.5 1.1 .3 1.2-1.5 1.1-.1 1.1-.4 1.2 .1 1.1 2.1 1.1-2.1 1.2 .4 1.1 .8 1.2 .3 1.1-.6 1.1-.2 1.1-.6 1.2-1.8 1.1 .4 1.1-.3 1.1-1.3 1.1 0 1.1 .4 1-2.3 1.1 1 1.1-.4 1-1.7 1.1 .2 1-1.1 1.1-.7 1-2.4 1 1.1 1.2-2.4 1.1 .8 1.1-2.8 1.2 1.4 1.1-2.8 1.1 1 1-.8 1.1-3.1 1.1-.9 1 1.5 1-.9 1.1-3.4 1 .5 1.1-1.8 1.1-2 1.1 1.1 1.1-1.7 1.1-2.9 1 0 1.1-1.4 1 .5 1-1.2 1-3.4 1.2 .1 1.1-1.6 1.1-2.1 1-1 1.1-1.9 1-2.5 1.1 .6 1-1.4 1-1.1 1.1-2.8 1.1-2.9 1 .7 1.1-3.6 1-2 1.1-1.7 1-.5 1-2.3 1.1-1 1.1-3.6 1.1-2.2 1 .7 1.1-4.3 1-1.3 1.1-2.8 1 .4 1-2.1 1-2.7 1-3.1 1.1-.2 1-4 1-1.1 1.1-2.6 1.1-.2 1.1-2.2 1.1-2.6 1-3.2 1.1-2 1.1-2.1 1-2.1 1.1-3.2 1-2.2 1.1-.7 1-1.8 1.1-1.8 1-2.8 1-2.7 1.1-3.5 1-2.2 1-2 1-.6 1-3.4 1.1-1.7 1-3 1-1.9 1-1.8 1.1-1.7 1-1.4 1.1-4.7 1.1-1.9 1-.4 1.1-2.7 1.1-2.2 1-3.5 1.1-3.2 1-2.5 1.1-.7 1-2 1-3.3 1.1-2.2 1-1.8 1-4.1 1-1.5 1-2.4 1.1-1.4 1-4.1 1-2.9 1-2.5 1.1-2.1 1-3.2 1.1-1.9 1.1-1.8 1-2.9 1.1-2.1 1-2.9 1.1-1.9 1-3.5 1.1-1.6 1-3.5 1-1.9 1.1-2.4 1-2.4 1-4.5 1-1.1 1.1-4.6 1-1.5 1-2.1 1-4.1 1-2.6 1.1-2.2 1-2.5 1.1-1.9 1-4.2 1.1-2.2 1-1.4 1.1-4.4 1-1.6 1.1-3.3 1-4.3 1.1-.3 1-5.2 1-2.2 1-1.1 1.1-4.8 1-.8 1-3.7 1-4.1 1-3 1-.4 1-4.3 1-2.1 1-4.5 1-1.8 1-4 1-1.7 1-4.2 1-2.7 1-.4 1-2.9 1-3.2 1-3.5 1-3.8 1-1.3 .9-4.3 1-3.3 1-2.1 1-2.1 1-2.8 .9-2.1 1-4.1 1-3.5 1-3.2 1-2.4 .9-.8 1-5.3 1-1.2 1-3.4 .9-3.5 1-1.5 1-3.1 1-4.3 .9-1.1 1-4.5 1-2.5 1-1.8 1-2.5 .9-3.2 1-1.9 1-3.4 1-2.1 1-4.8 .9-.8 1-5.1 1.1-3 1-3 1.1-3.2 1.1-1.6 1-4.8 1.1-.8 1.1-3.6 1-3.6 1-1.2 1-2.9 1-3.5 1-4.3 1-.4 1-3.7 1-2.1 1-4.9 1-3.2 1.1-2 1-1.5 1-2.7 1-2.6 1-4.3 1-1.5 1-4.7 1.1-1.7 1-4.2 1-1 1-3.8 1-3.5 1-1.3 1-3.7 1.1-3.3 1.1-2.9 1-1.9 1.1-4 1-1.7 1.1-5.1 1-2.3 1-1.7 1-3.8 1-2.5 .9-2.5 1-3.7 .9-4 1-2.3 .9-3 .9-3.2 1-1.6 .9-3.9 .9-1.1 .9-4 1-1.9 .9-2.7 .9-3.4 1-2.4 .9-2.9 .9-3.5 1-3.5 .9-2.6 1-3.2 .9-2.3 1-3.1 1-3 1-3.5 .9-2 1.1-3.8 1-2.2 1-3.5 1-2.1 1.1-2.3 1-4.2 1.1-2.3 1-2.3 1.1-3.2 1-2 1.1-2.1 1-2.7 1-4.2 1-2.6 1-1.6 1.1-3.2 1-3.5 1-2 1.1-.6 1-2.6 1-4.3 1.1-3.5 1-.4 1.1-4.1 1-3.2 1.1-2 1.1-2.9 1-.4 1.1-4.6 1.1-1.1 1-4.3 1.1-2.7 1.1-1.8 1.1-1.9 1-2.6 1-1.5 1-3.6 1-1.9 1-3.9 1-.5 1-2.5 1-2.1 1-4.4 1-1.4 1-1.8 1-4.2 1-.1 1-2.5 1-3.2 1-2.9 1-1.3 1.1-2.2 1-3.5 1-1.3 1-4.5 1-1.8 1-1.4 1-3.4 1-1.9 1-2.1 1-2.5 1-2.9 1-3.2 1.1-1.6 1-2.9 1-.8 1-2.4 1.1-4 1-1.4 1-2.2 1.1-3 1-3.3 1.1-.6 1-4.2 1.1-.7 1.1-4.1 1-.9 1.1-3.2 1-1.9 1-.5 1.1-2.3 1-3.2 1-1.8 1-1.9 1.1-2.4 1-3.8 1.1-1.2 1.1-1.1 1-2.4 1.1-3.5 1.1-.4 1-2.7 1-2.8 1-2.6 1.1 0 1-2.8 1-.5 1.1-3.9 1-2.4 1.1-1.5 1.1-1.4 1-3 1.1-.9 1.1-2.3 1 .4 1-4 1.1 .1 1-3.6 1-.5 1.1-1.5 1-2 1.1-.6 1-3.1 1.1-1.1 1.1-1.1 1.1-3.4 1.1-.8 1.1-.4 1-2.2 1-1.6 1-2.4 1.1-.2 1-1.5 1-2.6 1.1-1.1 1.1-1.1 1-1.2 1.1-2.4 1.1-1.8 1.1-1.9 1.1 .2 1.1-1.4 1.1-3 1 .6 1-3.2 1 .6 1.1-3.2 1 .3 1.1-1.6 1-2.3 1.1 .4 1.1-1 1.1-.8 1.1-2.3 1.1-1.1 1.1-.8 1-.2 1-2.5 1.1-.1 1-1.2 1-2.1 1.1 .5 1.1-.5 1-2 1.1 .5 1.1-2 1.1 0 1.1-1.2 1.2-1.8 1.1-1.1 1.2-.6 1-.8 1-1.5 1-.8 1.1 .5 1-1.3 1 1.3 1.1-.3 1.1-2.4 1 .6 1.1-1.5 1.1 .9 1.1-1.7 1.1 1 1.1-1.2 1.1-2 1.1-.3 1.2 .4 1.1 .2 1.1-.5 1.2 .7 1.1-2.6 1.2 .1 1.1 .4 1.2 1.4 1.2-2.4 1.1 1.4 1.2-1.5 1.2 1.5 1.2-.1 1.2-.9 1.2 1.4 1.1 .3 1.2-.3 1.2 1.2 1.2-1.8 1.2 1 1.1 .7 1.2-.1 1.2-.2 1.1 .4 1.2 2.3 1.1-1 1.2 1.6 1.1 1 1.1-1.1 1.1 .3 1.1 1.6 1.1 1.2 1-.6 1.1 2 1 1 1.1-.3 1 1.4 1.1-1.5 1.2 1.7 1.1 2.2 1.1 .5 1.1-.9 1.1 1.3 1 1.2 1.1 1.8 1 1.2 1 .3 1.2-.2 1.1 3.5 1.1 1.4 1.1-.5 1.1 2.5 1 .4 1.1 1.1 1 2.5 1-1.4 1.1 2.6 1.1 .9 1.1 2 1 1.5 1.1 .7 1 2.5 1 1 1.1 3.2 1.1 1.6 1.1 .2 1 2.7 1.1 1.3 1 1.1 1 1.4 1.1 3.7 1-.1 1.1 3.6 1 1.9 1 .4 1 2.4 1.1 2.4 1.1 2.3 1 2.4 1.1 1.5 1 2.8 1 1.8 1.1 3.8 1 1.6 1 1.9 1.1 2.5 1 1.1 1.1 3.1 1 3.8 1 3.3 1.1 .7 1 4.5 1.1 1.1 1 3 1.1 4.3 1 2.4 1 2 1 4.1 1.1 3 1 .7 1 4.8 1.1 1.6 1 3.1 .9 3.2 .9 3 1 1.9 .9 4.6 .9 .8 .9 5.5 .9 .9 .9 4.1 .9 2.4 .9 3.7 .9 1.1 .9 2.4 .9 3.2 .9 4.3 .9 3.3 .9 1 .9 4 .8 1.4 .9 5.1 .9 .8 .9 3.1 .9 4.4 .9 2.5 .9 2.6 .9 4.9 .9 2 1 1.9 .9 3.8 .9 3.9 .9 2.4 .9 2.1 .9 3.2 .9 3.3 .8 3.9 .9 3.3 .9 2.7 .9 2.3 .9 3.4 .9 4.6 .8 1.3 .9 4.3 .9 2.3 .8 4.7 .9 .4 .9 3.9 .8 4.3 .9 1.1 .8 4.1 .9 4.6 .8 2.3 .9 1.5 .8 3.1 .9 5.4 .8 3.1 .9 .9 .8 5.1 .8 2.7 .9 2.2 .8 2.6 .8 2.8 .8 3.3 .9 4 .8 1.7 .8 4.8 .8 3 .8 3.2 .9 3.6 .8 .9 .8 5.7 .8 1.7 .8 3.1 .8 2.2 .8 4.5 .8 3.7 .8 .8 .8 3.8 .8 4.4 .8 1 .8 4.7 .8 2 .8 4 .8 2 .8 3.7 .8 3.1 .7 3.3 .8 4.7 .8 .7 .8 3.5 .8 4.2 .8 2.2 .7 4.7 .8 1.6 .7 4.6 .8 .7 .7 3.7 .7 3.1 .7 3 .8 2.4 .7 3.3 .7 2.1 .7 3 .7 2.4 .8 4.2 .7 2.8 .7 4.2 .7 2.4 .7 2.7 .7 1.8 .7 2.7 .8 4.2 .7 1.6 .7 2.5 .7 3.7 .7 3.5 .7 1.9 .7 2.7 .7 5 .7 1.8 .8 1.6 .7 3.6 .7 2.4 .7 3.5 .7 3.4 .7 2.1 .7 5.1 .7 1.6 .7 4.1 .7 2.8 .7 .9 .7 2.9 .7 4.2 .7 1.4 .7 5.1 .7 1.6 .7 4 .7 1.4 .7 3.3 .7 3.8 .7 1.8 .7 2.8 .7 3.4 .7 1.9 .7 4.9 .7 1.3 .7 3.2 .7 2.4 .7 4 .7 2.5 .7 3.6 .7 3.3 .7 1.6 .7 3.3 .7 3.6 .7 2 .7 4.8 .7 .5 .7 3.2 .7 3.3 .7 4 .7 1.3 .7 5.1 .6 3 .7 2.2 .7 2.2 .7 2.6 .7 3.1 .7 4.4 .7 2 .7 4.2 .7 1.9 .8 2.3 .7 2.8 .7 4.8 .7 2 .8 4.1 .7 3.9 .7 .6 .7 3.2 .7 3.9 .7 3.1 .8 3.3 .7 3.3 .7 3 .7 2.2 .7 3.8 .7 2.6 .7 3.3 .7 4.2 .7 1.6 .7 3.8 .7 4 .7 2.2 .7 3.8 .7 2.9 .7 3.6 .7 3.8 .7 1.6 .7 4.8 .7 2.4 .7 2.5 .7 4.2 .6 2.1 .7 3.8 .7 3.7 .7 1.6 .7 3.5 .6 2.9 .7 2.4 .7 3.1 .6 3.1 .7 5.3 .7 3.2 .6 1.5 .7 4.7 .6 3.3 .7 2.6 .7 1.7 .6 4.4 .7 1.9 .6 4.8 .6 3.3 .7 3.3 .6 2.5 .7 1.7 .6 4.8 .6 1.4 .7 2.9 .6 3.2 .6 3.4 .6 4.1 .7 3.8 .6 1.6 .6 3.9 .6 4.1 .6 2 .6 1.9 .6 4.6 .6 4.2 .6 1.7 .6 3 .6 3.5 .6 3.3 .6 1.8 .6 4.3 .5 2.5 .6 4.3 .6 2.8 .5 3.2 .5 3.8 .6 2.4 .5 2.5 .5 2.7 .5 3 .5 4 .5 3.1 .5 3 .5 4.4 .4 2.8 .5 4.1 .4 .9 .4 3.2 .4 3.8 .4 4.6 .4 2.9 .4 2.2 .3 4.6 .3 1 .4 4.6 .3 3.8 .2 3.1 .3 1.2 .3 3.3 .2 5.2 .2 3.3 .2 1.8 .2 2.1 .1 5.3 .2 3.5 .1 .9 .1 2.8 .1 4.9 0 3.9 .1 1.5 0 2.7 0 3.6 0 2.8-.1 2.7 0 4.5 0 3.2-.1 1-.1 2.5-.1 4.6 0 3.1-.1 1.9-.1 2.6-.1 3.2-.1 3.5-.2 3-.1 2.4-.1 3.8-.1 4.2-.1 1.4-.1 2.5-.1 4.1-.1 2.5-.1 4.2-.1 2.2-.1 4.7-.1 2.4-.1 2.9-.1 1.2 0 3.7-.1 3.5 0 4.1 0 3.2-.1 .3 0 5 .1 4 0 2.6 .1 3.4 0 1.4 .1 3.8 .2 2.3 .1 3.9 .2 4.7 .2 2.4 0 1.3"/>
<path class="curve" stroke="#0000ff" d="M360 1415.8l1-.1 1.1 .4 1-1.8 1 .7 1.1 1.4 1-.1 1-3.1 1 .2 1.2-.6 1.2 1.6 1.2-1.5 1.1 1.8 1.2 .9 1.2-1.3 1.2 1.8 1.1-.1 1.2-2 1.1 2.5 1.2-.9 1.1 .9 1.2-.1 1.1 2 1.1-.7 1.2-.7 1.1 2 1.1 1.3 1.2-1.5 1.1 .1 1.1 1.1 1.2 2.6 1.1 .6 1.1-.8 1.2 1.3 1.1 .2 1.2-1.5 1.1-.7 1.2 2.6 1.1 0 1.2-.5 1.1-.2 1.2 1.1 1.1 .6 1.2-.5 1.2 .4 1.1 1 1.2 1.9 1.2-.8 1.1-1 1.2 .3 1.2 1 1.1-.8 1.2 .2 1.2 1.5 1.2-1.5 1.2 1.8 1.1-.2 1.2 1.5 1.2 .4 1.2-.1 1.2 .2 1.1-1.1 1.2 1.3 1.2-1.1 1.2 1 1.2-.8 1.2 .5 1.2-1.4 1.1 .8 1.2 3 1.2-2.8 1.2 1.9 1.2-.1 1.2 .3 1.2-.9 1.2 .5 1.2-2.1 1.1 0 1.2 .5 1.2-.1 1.2-.3 1.2 .1 1.2 1.7 1.2-1.5 1.2 3 1.2-1.1 1.1-.7 1.2 .6 1.2-1.8 1.2 2.5 1.2-.4 1.2-.6 1.2-1.1 1.1 1.3 1.2-.5 1.2-.5 1.2 .9 1.2-1.3 1.1-1.3 1.2 .6 1.2-1.6 1.2-.3 1.1 2 1.2 0 1.2 .5 1.1-.7 1.2-1.5 1.2-2.1 1.1 1.3 1.2 1.5 1.1-.8 1.2-1.5 1.1-.5 1.2-1.2 1.2-.5 1.1-.8 1.1 3 1.2-1.4 1.1-2.4 1.2 .7 1.1-1.8 1.1 .3 1.2 1.6 1.1-.7 1.1-1.1 1.2-1.2 1.1 1 1.1 .8 1.1-2.6 1.1-1.9 1.1-.5 1.1-.4 1.1 3 1.1-2.2 1.1 .7 1.1-3.2 1.1-.2 1 1.2 1.1 .2 1.1-2.8 1-1.7 1 2.6 1.1-2.9 1 1.2 1-3 1 1.5 1.2-.2 1.1-1.3 1.1-2.3 1.1 .6 1.1-3.2 1.1-.2 1.1-.5 1 .9 1-3.8 1.1 1.9 1-1.3 1.1-.4 1.1-3.6 1.1-1.8 1.1-1 1 1.1 1.1-.6 1-2.3 1-2.1 1.1-2.2 1.1 .7 1-1.3 1.1-4.5 1-1 1 1 1.1-1.6 1.1-3.8 1-1.8 1.1-1.1 1-1.2 1.1-3.7 1.1 1.1 1-3.2 1.1-.9 1-4.2 1 .9 1.1-3 1.1-3.8 1 .2 1-3.1 1.1-1.9 1-5.5 1.1-2.4 1 .4 1-4.2 1-1.5 1.1-4.1 1.1 .7 1-4.5 1.1-1.3 1-5.6 1.1-1 1.1-4.3 1 .7 1.1-4.4 1-4.1 1.1-2.6 1.1-.7 1-4.4 1.1-2.2 1-1.6 1.1-2.3 1-2.3 1.1-2.4 1-3.6 1-1.9 1.1-4.6 1-2.3 1-.7 1.1-5.6 1-2.8 1-2.9 1-2.1 .9-5 .9-2.9 .9-1.3 .9-4.3 .9-1 .8-2.6 .8-4 .8-2.6 .8-4.3 .8-4.5 .7-1.6 .7-3.2 .7-2 .6-4.8 .6-2.5 .7-.6 .6-5.2 .6-2.3 .6-.9 .6-5.6 .6-3.4 .6-.8 .5-3.4 .6-2.8 .5-5.3 .6-1.4 .5-4.6 .6-2 .5-1.1 .5-5.6 .6-2 .5-.2 .5-3 .6-4.9 .5-2 .5-3.3 .6-3.7 .5-1.4 .5-5.7 .5-.3 .6-6.3 .5 .2 .6-3.9 .6-4.1 .5-2.3 .6-4 .5-1.8 .5-5.8 .6-1.6 .5-1.7 .6-2.9 .5-6 .5-3 .6-.6 .5-5.4 .5-4.3 .5-.5 .6-4.3 .5-1.9 .5-4.2 .5-3 .5-3.5 .5-3.7 .5-.7 .5-4.1 .5-2.7 .4-2.7 .5-5.7 .5-.5 .5-3.4 .4-4.6 .5-2.9 .4-5 .5-.6 .5-5.5 .4-1.7 .4-4.8 .5-3.4 .4-1 .5-3.7 .4-2.4 .4-2.7 .4-2.4 .5-6.8 .4-.9 .4-3.2 .4-2.7 .3-3.4 .4-2.9 .4-1.8 .4-4.6 .4-2.7 .3-2.3 .4-5.4 .4-1.6 .3-4.3 .4-2.8 .4-3.6 .3-2.1 .4-3 .4-1.8 .3-2.7 .4-2 .3-4.3 .4-1.4 .3-5 .4-1.5 .3-3.8 .4-2.7 .3-4.4 .4-.3 .3-3.7 .3-5.4 .4-1.5 .3-1.1 .4-6.8 .3-1.9 .3-1.3 .4-5.8 .3-.1 .3-3.7 .4-2.4 .3-3.7 .3-1.4 .4-5.4 .3-2 .3-5.1 .4-1 .3-3.5 .3-.7 .4-3.2 .3-6.2 .3-3.4 .3-2.6 .4-2.7 .3-.9 .3-3.7 .4-3 .3-3.3 .3-4.8 .4-1.5 .3-.5 .3-3.7 .4-4 .3-4.5 .3-.1 .4-4.9 .3-2.2 .3-4.7 .4-2.5 .3-2.9 .3-2.8 .4-4.4 .3-.5 .4-4.9 .3-1.3 .4-2.9 .3-2.6 .3-4.6 .4-3 .4-1.4 .3-4.6 .4-4.1 .4-.2 .4-6.7 .4 .3 .3-5.6 .4-2.8 .4-.8 .4-5.3 .4-2.1 .4-4.3 .4-1.2 .4-4 .4-4.1 .4-4.7 .4-2.1 .4-2.7 .4-3.9 .5-2.2 .4-4.5 .4-2 .4-3 .4-2.6 .5-2.9 .4-3.2 .4-4.4 .5-3 .4-1.5 .5-5.2 .4-1.7 .5-2.1 .4-3.4 .5-4.7 .5-4.1 .4-1.9 .5-2.9 .5-3.8 .5-3.9 .5-2.7 .5-4.6 .4-2.3 .5-3.8 .6-1 .5-2 .5-6.3 .5-3.7 .5-.3 .5-4.7 .6-2.5 .5-4.9 .6-2.7 .5-1 .6-3.5 .5-2.2 .6-2.5 .5-5.4 .6-1.9 .6-3.7 .6-2.7 .6-3.4 .6-.7 .6-4.4 .6-4.9 .7-.8 .7-1.9 .7-3.3 .7-4.4 .7-5.2 .7 .1 .8-2.5 .8-3.9 .9-4.2 1.1-2.5 1.1-.2 1-3.8 1 1.9 1.1-1.8 1.1-2 1 3.1 1.1-1.2 1.1-.1 1 1.8 1 5.6 .7 .4 .4 5.5 .4 3.2 .3 .2 .4 4.5 .4 4.5 .5 1.9 .4 4.5 .4 1 .4 4.2 .4 1.3 .4 5.5 .4 3.1 .3 2 .4 2.2 .3 3.3 .4 4 .3 1.1 .3 4.6 .3 2.2 .3 3.2 .2 3 .3 5.2 .3 .4 .3 3.3 .2 2.8 .3 2.5 .3 4.7 .2 4.7 .3 3.3 .2 1.3 .2 2.8 .3 4.8 .2 1.6 .2 3.1 .3 3.4 .2 .8 .2 6.2 .2 .2 .3 4.9 .2 4.8 .2 1.6 .2 2.4 .2 4.7 .2 3.9 .2 2 .2 .9 .2 6.5 .2-.3 .1 5.8 .2 4 .2 .2 .2 4.7 .1 3.8 .2 1.1 .2 3.4 .1 2.5 .2 3.5 .1 3 .2 3.9 .1 5 .1 3 .2 3.4 .1 2.8 .1 3.8 .2 .6 .1 4.8 .1 .9 .1 4.8 .1 4.4 .1 1.6 .2 2.3 .1 2.9 .1 3.5 .1 5 .1 3.3 .1 2.1 .1 4 .1 2.1 .1 1.1 .1 3.6 .1 4.1 .1 3 .1 2.9 .1 2.2 .1 1.7 .1 6.2 .1 .1 .1 6 .1-.4 .1 6.4 .1 .6 .1 4.8 .2-.2 .1 4.7 .1 2.2 .1 4.8 .1 2.9 .1 2.2 .1 4 .1 4.1 .2-.4 .1 5.1 .1 3.6 .1 3.1 .2 1.7 .1 5.6 .1 .7 .1 5.6 .2 1.7 .1 1.9 .1 5.9 .2 .2 .1 6 .1 2.4 .2 4.3 .1 2.9 .1 1.6 .2 2.1 .1 3.8 .1 2.1 .2 5.8 .1 .9 .2 3.6 .1 3.4 .1 3.8 .2 4.4 .1 2.2 .2 3.4 .1 1.5 .1 4.2 .2 2.7 .1 5.3 .2 .3 .1 5.6 .2 3.5 .1 2.4 .2 1.4 .1 4 .2 3.1 .1 3.3 .1 3.2 .2 6 .1 2.5 .2 3.6 .1 2.3 .2 1.5 .1 5.4 .2 1.2 .1 1.8 .1 5.2 .2 1.1 .1 5.2 .2 2.7 .1 1.2 .1 3.7 .2 4 .1 2.8 .2 2.5 .1 1.7 .1 3.5 .2 4.5 .1 2 .2 4.1 .1 2.9 .2 1.7 .1 1.9 .2 5.4 .1 1.7 .2 3.8 .1 1.3 .2 3.1 .2 4.1 .1 4 .2 .8 .2 5.6 .1 3.4 .2 2.2 .2 3.4 .1 .9 .2 2.5 .2 3.9 .2 2.2 .2 4.2 .2 4.3 .2 1.1 .1 5.3 .2 1.4 .2 1.8 .3 5 .2 2.1 .2 2.6 .2 3.7 .2 5.1 .3 2.3 .2 1.3 .3 5.7 .2 .2 .3 4.1 .2 3 .3 5.7 .3-.8 .3 5.8 .2 2.6 .3 1.7 .3 5.1 .3 3.9 .3 3 .3 .4 .4 6 .3 1.3 .3 5.2 .4 2 .3 1.2 .4 5.8 .3 2.4 .4 2.7 .4 3.9 .4 2.3 .4 1.5 .4 6.7 .4 .6 .5 3.1 .5 2.3 .5 5.6 .4 3.8 .6 1.2 .5 4.4 .6 1 .6 3.2 .6 2.7 .6 3.1 .7 4.1 .7 2.1 .7 2 .8 5.5 .9 1.5 .9 3.3 1 2.2 1 2.3 1 5.1 1 1.5 1.1 4.4 1.1-1.5 1 5.1 1.1-1.4 1 2.3 1.1 .9 1 3.4 1 .7 1.1 1.2 1 3.7 1.1-.5 1 2.5 1.1 .8 1.2-1.2 1 2 1.1-1 1.1 1.4 1.1 2 1.2 .2 1-1.4 1 .5 1.1 3.2 1.1 .2 1.1 .2 1.1-1.3 1.1 2.6 1.2-.5 1.1-1.4 1.2 .4 1.2 2.1 1 1.6 1.1-1.4 1-1 1 1.9 1-2 1.1 1.9 1-.8 1.1-1.5 1 2 1.1 0 1 1.7 1.1-.8 1-1.7 1.1 1.4 1-1.7 1.1 1.6 1-.3 1.1 0 1-2 1.1 2.1 1-.8 1 .6 1-2.9 1 2.5 1 .7 1.2-1.7 1.2-2.1 1.2 2.8 1.1-1.8 1.2-1.5 1.1 1 1.1 .6 1.2-3.4 1.1 1.3 1.1-.1 1 .7 1.1-4.1 1.1 1.4 1 .4 1.1-.8 1 .2 1.1-1.4 1-.6 1-.7 1-2.4 1 2.1 1.2-2.1 1.2-2.7 1.1 2.4 1.2-1.3 1.1-1 1.1-3.2 1.1 1.8 1.1-2.4 1.1 1.1 1.1-3.5 1.1-.2 1.1-1.8 1.1-1.3 1 .4 1.1 .5 1.1-2 1-1.4 1.1 1.6 1-1.8 1.1 0 1-3.6 1.1-1.4 1 2.2 1.1-4.6 1 1.9 1-.3 1.1-1.9 1-1.5 1-1.8 1-1.3 1.1-1.9 1 .3 1-.5 1-2 1 1.9 1-.9 1.2-3.9 1.1 .1 1.1 0 1.1-2.4 1.2-2 1.1 .8 1.1-2.5 1.1-.8 1.1-.6 1-3 1.1 .4 1.1-2.9 1 .4 1.1-2.8 1 .9 1-3 1 1.2 1.1-4.3 1 .9 1-.6 1-1.2 1-2.7 1.1-1.2 1.1-2.4 1.1 .8 1.2-1.8 1.1-2.4 1.1-1.4 1.1 .3 1.1-2.9 1.1-3.2 1.2-1.4 1.1 1.3 1-2.2 1-1.1 1-1.8 1-2.8 1 1.9 1.1-3 1-.8 1-1.3 1.1-2.5 1 2.1 1.1-1.2 1.1-5 1-1 1.1 .1 1.1 1.3 1.1-3.2 1.2 .6 1.1-3.5 1-.4 1 .4 1.1-1.7 1-2.4 1-.4 1.1-.3 1.1-1.8 1-1.8 1.1-.8 1.1 1.1 1.2-3 1.1-1.1 1.1-.4 1.2 1.9 1.2-.8 1-2.8 1-1.7 1 .2 1 1.1 1.1-1.8 1 .7 1.1-.7 1-.8 1.1-.3 1.1-1.9 1.1-1.9 1.1 2 1.1 .5 1.1-1.7 1.1-2 1.1 2.4 1.2-.3 1.1-.2 1.1-1.3 1.2 1 1.2-2.9 1.1 1.3 1.2 1.6 1.2 0 1.2-.7 1.2-.7 1.2 .3 1.2-.7 1.1-.5 1.2 3 1.2-.9 1.1-.5 1.2 .3 1.1-.1 1.1 .5 1.1 2.5 1.1-.9 1 .8 1 2.8 1.1-2.2 1.1 4.3 1.1-1.2 1 2.7 1.1 1 1.1 .6 1-1.3 1.1 3.7 1 .5 1.1 .9 1 2.3 1 2.1 1.1 .6 1 1.8 1.1 1.1 1.1 1.7 1 3.8 1 3.4 1.1-1.4 1 4.3 1.1 2 1 2.7 1.1 .4 1 1.9 1.1 2.3 1.1 4.3 1 2.2 1.1 2 1 0 1.1 2.6 1 1.8 1.1 3.7 1.1 .4 1 4.2 1.1 2.3 1 1.1 1.1 .8 1.1 2.5 1 3.3 1.1 2.9 1.1 0 1 3.9 1.1 3.2 1.1 1.5 1.1 2.8 1 2.4 1.1-.6 1.1 1.9 1.1 4.9 1 .1 1.1 1.1 1.1 4.2 1.1 1.5 1.1 1 1 5.1 1.1 .4 1.1 4.2 1-.9 1 1.1 1 5.3 1.1-.5 1 4.4 1.1 .2 1 2.7 1.1-.4 1.1 2.3 1 3.3 1.1 2.8 1.1 1.1 1 1.8 1 .9 1.1 2.2 1.1-1.5 1 .8 1 1.6 1.1 2.6 1.1 .3 1.1-.2 1.1 1.5 1 1.6 1.1 1.1 1.1 .9 1 1.9 1.2 1.2 1.1 1.6 1.2-1 1 3 1-1.6 1 .9 1.1 .6 1 2 1.1 .5 1.1-.6 1.1 .2 1.1-.5 1.1 1.3 1.1-.2 1.2 1.5 1.1-.1 1.1 2.3 1.2 .8 1.2-.6 1.1 .3 1.2-.2 1.2 2.8 1.1 .5 1.2-1.2 1.2 1.1 1.2-1.6 1.2 1 1.2-.7 1.1 2.5 1.2-1.3 1.2 1.3 1.2-1.1 1.2-2.1 1.2 .9 1.1 1.1 1.2 1.3 1.2-1.2 1.1-1.3 1.2 1.1 1.2-.3 1.1 1.1 1.2-1.7 1.1-2.6 1.1 3.6 1.2-3.7 1.1 .5 1.1 2.1 1.1-1.6 1.1-.4 1.1-1.4 1.1-.6 1-.9 1.1 1.3 1.1-2.1 1-1.5 1.1-.3 1-.8 1 2.4 1-3.1 1.1-.8 1.1 .9 1.2-2.2 1.1 1.2 1.1-1.3 1.1-1.2 1.1-1.3 1.1-1.3 1.1-.7 1 .2 1-3.5 1.1-.3 1 1 1.1-1.1 1.1-1.7 1.1-2.3 1.1-1.3 1.1 0 1-2.2 1.1 .7 1-1.1 1-1.5 1.1-1.7 1.1-.4 1.1-2.8 1.1-2.5 1-1.6 1.1-2 1 .6 1-1 1-2.1 1.1-3.6 1.1 .6 1.1-1.5 1.1-3.2 1-1.1 1.1-3.6 1 .4 1-4.1 1.1-.4 1 .1 1-2.5 1-2.8 1.1 .2 1.1-3 1.1-.8 1.1-3.7 1-1.2 1.1-2 1.1-4.3 1-1.6 1.1-2 1.1-1.7 1 1.2 1-3.2 1.1-1.8 1-1.1 1.1-4.9 1 .3 1-2.9 1-2.5 1-.5 1.1-1.7 1-2.8 1-1.6 1.1-1.5 1-4.1 1.1-.2 1.1-3.6 1.1-.4 1-3 1.1-2.5 1.1-.7 1-4 1.1-3.4 1-.9 1.1-2.8 1 .3 1-5.4 1.1-.3 1-2.5 1-3.9 1.1 .2 1-2.7 1-2.7 1-.1 1-5.6 1 0 1.1-3.6 1-1.3 1-2.7 1-.9 1-1.6 1.1-5.6 1.1-.7 1.1-1.4 1-4.1 1.1-2.2 1.1 .1 1-5.7 1.1-.5 1-1.9 1.1-2.5 1.1-4.8 1 1.2 1-6.1 1.1-2.3 1-.3 1.1-4.3 1-1.4 1-.5 1.1-3.3 1-2.3 1-1.1 1.1-5.6 1 1.1 1-3.7 1-2.2 1-5.1 1 1 1.1-4.3 1-2.4 1-1.4 1-3.4 1-.2 1-2.7 1.1-4.7 1.1-3.2 1.1-1.9 1-.2 1.1-5.3 1-1.9 1.1-3.7 1.1-1.5 1-.7 1.1-4.8 1-4.2 1.1-.1 1-2 1-4.3 1.1-3.6 1-1.6 1.1-.9 1-3.8 1-4.4 1.1 .1 1-4.4 1-1.4 1-3.1 1.1-3.6 1-1.8 1-3.1 1-1.5 1-4.2 1 .8 1-3.3 1-3 1-4.5 1.1 .2 1-2.6 1-6.2 1.1-2.3 1.1-3.2 1-2.2 1.1-.8 1.1-2.1 1-4.6 1.1-3.2 1-1.6 1.1-2.3 1-4.2 1.1-2.9 1-3.2 1.1-2.6 1-2.9 1.1-4.1 1 .5 1-4.5 1.1-2.1 1-3.8 1.1-1.5 1-5 1-.4 1.1-2.3 1-6.2 1-1.6 1-4.4 1.1 .2 1-3.9 1-4.8 1 .7 1.1-2.7 1-5.4 1-1 1-5.5 1-.5 1-4.2 1-4 1.1-1.7 1-1.9 1-4.8 1 .5 1-4.6 1-2.5 1-1 1-3 1-3.6 1-2.8 1-2.4 1-3.7 1-2.9 1-1.8 1-5.8 1 .6 1-5.7 1-2.9 1.1-1.3 1-3.1 1-2.8 1-1.6 1-6.3 1-2.2 1-2.7 1-1.3 1-3.6 1-1.7 1-3.8 1-4.3 1 .2 1-4 1.1-3.2 1-3.3 1-.5 1-3.8 1-4.9 1.1-1.6 1-.5 1-5.7 1-3.4 1.1-3 1-2.8 1.1-2.9 1-1.1 1-1.1 1.1-2.6 1-3 1.1-4.9 1.1-1.6 1-5.3 1.1 .1 1-4.8 1.1-1.1 1-4.1 1-1.8 1-2.7 1-2 1-3.8 1-3.1 1.1-1.1 1-1.8 1-4.2 1.1-.3 1-4.6 1.1-2.8 1-2.6 1.1-.3 1-5.3 1.1-1.3 1.1-2.9 1-.8 1-6.2 1 1.4 1.1-4.9 1-.6 1-4.8 1-.4 1-3.9 1.1-2.9 1-2.5 1-2.4 1.1 .6 1-4.2 1.1-3 1-.3 1.1-3.5 1.1-1.9 1-3.9 1.1-2.7 1.1-2.6 1-1.6 1.1-2.1 1.1-1.4 1-3.2 1-2.2 1-2.9 1-1.4 1-1.6 1-3.8 1.1 .3 1-1.5 1-3.6 1-3.2 1.1 .5 1-5.6 1-1.9 1 .2 1.1-2 1-4 1-3.2 1.1 0 1-3.4 1.1-.1 1-5.3 1.1-.3 1-3.6 1.1 1 1-2.1 1-3.7 1.1-1.7 1-1.4 1.1-2.1 1-5.3 1.1-1.3 1-.3 1.1-4.2 1-1.6 1 .1 1.1-4.2 1-1.7 1-3.6 1.1-2.5 1 .9 1-2.7 1.1-4.7 1 1 1-2.3 1-4.5 1 .1 1-5.2 1-1.7 1 .3 1.1-3.8 1.1-2.8 1-2.6 1-2.5 1-2.4 1-1 1-2 1-3.8 1.1 .4 1-4.8 1.1-1.9 1 .8 1.1-4.1 1.1-3.2 1-.9 1-2.8 1.1-2.1 1 1.5 1.1-5.5 1.1 .7 1-2.8 1-2.6 1 .9 1.1-3.2 1.1-3.6 1-.3 1.1-.7 1.1-2.3 1-2 1-1.3 1.1-1.6 1-.7 1.1 .6 1.1-1.7 1.1-3 1.1 0 1.1-4.3 1 .6 1-.5 1-3.5 1.1 0 1-1.4 1-2.9 1 2.2 1-3.6 1.1-.5 1-3.4 1 .8 1-1.5 1 .5 1.1-4.5 1 2.1 1-4 1 1.4 1.1-1.5 1-1.8 1-2.2 1.1-.8 1-.3 1.1-2.3 1.1-2.4 1.1 1.5 1.1-1.1 1.1-2.8 1.2-1.4 1 1.8 1-3.1 1-2 1.1 2.3 1.1-3.4 1-.2 1.1-.2 1.2-1.2 1.1-1.8 1.2-.7 1 .4 1-2.2 1 2.5 1.1-3.2 1.1-1 1.1-.5 1.1-.5 1.1 2.3 1.1-2.4 1.2 .8 1.1-.1 1.2-3.4 1.1 1.8 1.2 .5 1.1-2.6 1.2 2.6 1.1-1.7 1.2-.1 1.1 1.9 1.2-3.2 1.1 3.1 1.1-2.5 1.1 1.4 1.1-1.6 1.2 1.4 1.1-.2 1.1 2.5 1.1 1.2 1.1-3 1.2 0 1.1 2.7 1.1 1.6 1.2 .2 1.1-.2 1.2-.3 1.1-.4 1.2-2 1.1 4 1-1.1 1.1 0 1.1-1.2 1 1.3 1.1 1.6 1 3.6 1.1 0 1 1.6 1.1 .4 1.1 3.1 1.1-.4 1 1.8 1.1 2.5 1.1 0 1 4.1 1-1.3 1 2.2 1 3.1 1-1 1.1 2.2 1.1 1.9 1.1 .4 1.1 .8 1.1 2.5 1.1 2.5 1 0 1.1 2.5 1-.2 1.1 2 1 3.7 1-2 1 4.8 1.1-1.8 1.1 4.8 1.1-.1 1.1 3 1-.2 1.1 1.4 1 1.4 1.1 1.4 1 3.1 1 .4 1 2.7 1.1 4.3 1.1 1.2 1.1 .7 1 .4 1.1 2 1 5.7 1-.3 1.1 2.5 1 2.6 1 1.6 1.1 2.7 1.1 1.3 1 1.9 1.1 2 1 3.9 1 2.5 1-.2 1.1 1.7 1.1 5.2 1-.2 1 4.1 1.1 .4 1 3.9 1 1.2 1.1 1.5 1 2.5 1 3.7 1.1 3.3 1 2.5 1 2.6 1.1 3.1 1 1.3 1.1 4.9 1 3.3 1 1.5 1 2.9 1 1.5 1 2.5 1 3.7 .9 3.5 1 1.6 .9 3.9 1 3.3 .9 3.1 .9 3.7 .9 2 .9 1.5 .9 3.4 .9 3.4 .9 3.3 .9 2.4 .9 2.8 .8 4.9 .9 1.9 .8 4 .9-.2 .8 4.9 .9 2.1 .8 2.3 .9 1.8 .8 6.3 .8-.7 .9 6.2 .8 1.1 .8 4.8 .9-.4 .8 2.9 .8 4.3 .8 3.8 .8 3 .8 1.5 .9 4.3 .8 1.9 .8 2 .8 2.7 .8 3.4 .8 5.6 .9 .7 .8 4.1 .9 1.5 .8 6.4 .9 2.8 .8 .1 .8 3.3 .9 5.8 .8 .7 .8 2.3 .8 5.1 .9 1.3 .8 2.8 .8 5.3 .8 4.4 .9 0 .8 5.7 .8 2.2 .8 4 .8 1 .8 3.2 .8 3.9 .8 1.7 .8 3.4 .8 2.4 .8 6 .8 1.6 .8 1.8 .8 6.1 .8 .3 .8 2.4 .8 4.9 .8 3.7 .8 2.7 .8 3.6 .7 2.1 .8 4.7 .8 2.2 .8 1.5 .8 5.8 .7-.1 .8 4.2 .8 4.1 .8 4.5 .7 .7 .8 2.5 .8 4.9 .8 3.7 .7 1.1 .8 3.9 .8 3.9 .7 2.5 .8 4.4 .8 .3 .7 5.7 .8 .1 .8 4.1 .7 5.2 .8 1.8 .8 4.7 .7 1.9 .8 3.7 .7 .9 .8 4.1 .8 3.1 .7 2.2 .7 3.6 .7 3.7 .7 4 .7 1.3 .7 1.2 .7 4 .7 2.7 .8 2.7 .7 3.6 .7 2.5 .7 4.8 .7 1.5 .7 4.7 .7 .6 .7 5.6 .7-.5 .7 5 .8 .9 .7 3.3 .7 5.3 .7 1.9 .7 2.2 .7 1.7 .7 6.2 .7 2 .7 .5 .8 4.2 .7 3.5 .7 1.1 .7 3.1 .7 5.2 .7 3.9 .7 .8 .8 1.7 .7 4.7 .7 4.1 .7 3 .7 3 .7 2.9 .8 2.7 .7 .4 .7 5.3 .7 4.1 .8 1.1 .7 2 .7 5.3 .7 2.5 .8 2.1 .7 .8 .8 4.7 .8 3 .8 4.4 .8 4 .8 1.2 .8 2.8 .9 3.6 .8 3 .8 3.3 .9 1.1 .8 3.8 .9 4.5 .8 1.9 1 2.4 .9 2 .9 3.1 1 2.5 1 6.3 .9 1.6 1 3.6 1 2.9 .9 2.5 .9 1.1 .9 4.4 .8 2.5 .8 1.7 .8 5.1 .8 4.6 .8 3.1 1.1-.8 1 3.3 1.1-4.3 1-2.3 .8-3 .7-2.5 .7-4.1 .5-2.3 .4-3.6 .5-.6 .4-2.5 .4-4.4 .6-5 .5-2.4 .6-3.5 .5 .5 .6-5 .6-4.3 .6-1.4 .6-4.2 .6-1.7 .6-3.7 .5-2.5 .6-2.3 .5-4.3 .5-4.4 .5-1.9 .5-2.7 .5-4.6 .4-.4 .4-3.6 .4-5.3 .4-.4 .4-3.1 .3-3.8 .4-3.3 .3-3.2 .3-4.7 .3-3.2 .3-.1 .2-4.6 .2-2.4 .3-2.8 .1-2 .2-3.9 .2-4 .1-2.9 .1-4.2 .1-.6 .1-4.1 .1-5.3 0-.3 0-2.1-.1-3.3 0-4.1 0-3.2 .1-1.8 .2-3.9 .2-5 .3-1.2 .4-2.9 .4-4.9 .5-3.3 .8-2.3 1-2 1 5.1 .8 .5 .8 5.3 .7 1.6 .8 2.6 .7 5.2 .8 3.5 .9 .4 .8 5.2 .8 0 .8 3.9 .8 3 .6 4 .5 2.1 .5 2.6 .4 4.7 .4 2.4 .4 4 .3 2.4 .4 2.5 .3 3.4 .4 4.4 .4 2.7 .5 1.5 .4 3.6 .6 1.2 .5 6.4 .6 3.3 .6 2.1 .6 3.5 .6 .1 .7 3.7 .6 2 .7 2.8 .8 4.4 .7 3.8 .7 4.1 .8 3.4 .7 .6 .7 5.6 .7 3.2 .7 1.9 .7 3.8 .7 3.8 .6 1.4 .6 1.5 .6 3.4 .5 4.8 .5 3.5 .5 1.9 .5 2.9 .4 5 .4 2.7 .3 3.6 .3 2.1 .3 3.1 .3 2.3 .3 2.6 .2 3.9 .2 2.9 .2 1.5 .2 3.6 .2 2.1 .2 5.5 .1 1.1 .1 4.6 .1 5.1 .1 2.9 .1 2.5 .1 3.6 .1 2.7 0 4.3 .1 5 0 2.3 0 3.1 0 5.3 0 2.5-.1 .9 0 4 0 3.5-.1 2.6 0 2.2-.1 1.8 0 5.5-.1 3.1 0 1.6-.1 1.7 0 3-.1 5.7 0 3-.1 3.6-.1 1 0 3.9-.1 3.3 0 3.3-.1 3.8 0 .7 0 4-.1 4 0 3 0 .3 0 3.2 0 3.5 0 2.6 0 3 0 5.9 0 2 0 3.9 0 2.3 .1 1.2 0 4.8 .1 2.3 0 3.4 .1 5.3 0 1.8 .1 3.8 0 1.8 0 2.2 .1 4.1 0 2.7 .1 6.5 0 3.2 0 1.5 .1 4.6 0 1 0 5.4 0 .8 0 4.2 0 2.1 0 2.9 0 4.2-.1 1.7 0 4.7-.1 4.1 0 2.7-.1-.1 0-.2"/>
</g>
<path d="M350 38h6v11h-6zM350 1419h6v-11h-6zM403 38h6v11h-6zM403 1419h6v-11h-6zM457 38h6v11h-6zM457 1419h6v-11h-6zM511 38h6v24h-6zM511 1419h6v-24h-6zM565 38h6v11h-6zM565 1419h6v-11h-6zM619 38h6v11h-6zM619 1419h6v-11h-6zM673 38h6v11h-6zM673 1419h6v-11h-6zM727 38h6v24h-6zM727 1419h6v-24h-6zM780 38h6v11h-6zM780 1419h6v-11h-6zM834 38h6v11h-6zM834 1419h6v-11h-6zM888 38h6v11h-6zM888 1419h6v-11h-6zM942 38h6v24h-6zM942 1419h6v-24h-6zM996 38h6v11h-6zM996 1419h6v-11h-6zM1050 38h6v11h-6zM1050 1419h6v-11h-6zM1104 38h6v11h-6zM1104 1419h6v-11h-6zM1157 38h6v24h-6zM1157 1419h6v-24h-6zM1211 38h6v11h-6zM1211 1419h6v-11h-6zM1265 38h6v11h-6zM1265 1419h6v-11h-6zM1319 38h6v11h-6zM1319 1419h6v-11h-6zM1373 38h6v24h-6zM1373 1419h6v-24h-6zM1427 38h6v11h-6zM1427 1419h6v-11h-6zM1480 38h6v11h-6zM1480 1419h6v-11h-6zM1534 38h6v11h-6zM1534 1419h6v-11h-6zM1588 38h6v24h-6zM1588 1419h6v-24h-6zM1642 38h6v11h-6zM1642 1419h6v-11h-6zM1696 38h6v11h-6zM1696 1419h6v-11h-6zM1750 38h6v11h-6zM1750 1419h6v-11h-6zM1804 38h6v24h-6zM1804 1419h6v-24h-6zM1857 38h6v11h-6zM1857 1419h6v-11h-6zM1911 38h6v11h-6zM1911 1419h6v-11h-6zM1965 38h6v11h-6zM1965 1419h6v-11h-6zM302 1322v6h11v-6zM2019 1322v6h-11v-6zM302 1224v6h11v-6zM2019 1224v6h-11v-6zM302 1127v6h24v-6zM2019 1127v6h-24v-6zM302 1030v6h11v-6zM2019 1030v6h-11v-6zM302 932v6h11v-6zM2019 932v6h-11v-6zM302 835v6h24v-6zM2019 835v6h-24v-6zM302 738v6h11v-6zM2019 738v6h-11v-6zM302 640v6h11v-6zM2019 640v6h-11v-6zM302 543v6h24v-6zM2019 543v6h-24v-6zM302 446v6h11v-6zM2019 446v6h-11v-6zM302 348v6h11v-6zM2019 348v6h-11v-6zM302 251v6h24v-6zM2019 251v6h-24v-6zM302 154v6h11v-6zM2019 154v6h-11v-6zM302 56v6h11v-6zM2019 56v6h-11v-6z" fill="#000" shape-rendering="crispEdges"/>
<path d="M296 32H2025V1425H296zM302 38V1419H2019V38z" fill="#000" fill-rule="evenodd" shape-rendering="crispEdges"/>
<text class="tick" x="299.3" y="1496.8" text-anchor="middle">0</text>
<text class="tick" x="514.6" y="1496.8" text-anchor="middle">100</text>
<text class="tick" x="730.0" y="1496.8" text-anchor="middle">200</text>
<text class="tick" x="945.3" y="1496.8" text-anchor="middle">300</text>
<text class="tick" x="1160.6" y="1496.8" text-anchor="middle">400</text>
<text class="tick" x="1375.9" y="1496.8" text-anchor="middle">500</text>
<text class="tick" x="1591.2" y="1496.8" text-anchor="middle">600</text>
<text class="tick" x="1806.6" y="1496.8" text-anchor="middle">700</text>
<text class="tick" x="2021.9" y="1496.8" text-anchor="middle">800</text>
<text class="tick" x="269.3" y="1439.2" text-anchor="end">0</text>
<text class="tick" x="269.3" y="1147.2" text-anchor="end">2000</text>
<text class="tick" x="269.3" y="855.2" text-anchor="end">4000</text>
<text class="tick" x="269.3" y="563.3" text-anchor="end">6000</text>
<text class="tick" x="269.3" y="271.3" text-anchor="end">8000</text>
<text class="xt" x="1160" y="1605.6" text-anchor="middle">Sample Temperature °C</text>
<text class="yt" transform="translate(107.4 728.6) rotate(-90)" text-anchor="middle">normalized TCD-Signal mV/g</text>
<path d="M1566 88.8H1721" stroke="#555555" stroke-width="8" stroke-linecap="round" fill="none"/>
<text class="leg" x="1739" y="112.7">CuFe/C</text>
<path d="M1566 174.3H1721" stroke="#ff0000" stroke-width="8" stroke-linecap="round" fill="none"/>
<text class="leg" x="1739" y="198.4">CuNi/C</text>
<path d="M1566 259.8H1721" stroke="#0000ff" stroke-width="8" stroke-linecap="round" fill="none"/>
<text class="leg" x="1739" y="284.2">Cu/C</text>
</svg>
</body>
</html>
